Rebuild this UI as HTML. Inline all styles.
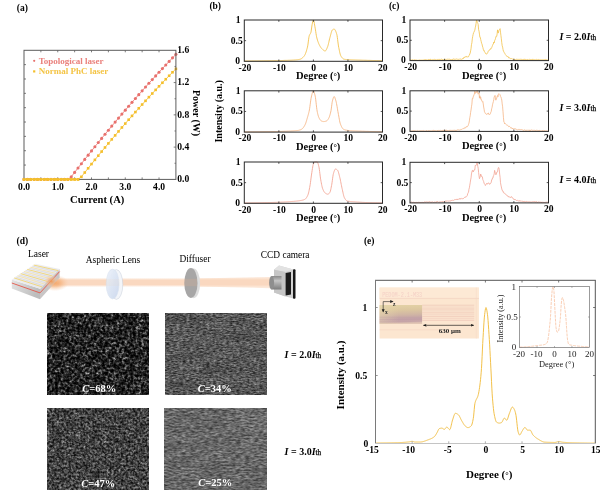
<!DOCTYPE html>
<html><head><meta charset="utf-8"><title>figure</title>
<style>html,body{margin:0;padding:0;background:#fff;}body{width:600px;height:490px;overflow:hidden;}svg{display:block;will-change:transform;font-family:"Liberation Serif", serif;}</style></head><body>
<svg width="600" height="490" viewBox="0 0 600 490">
<rect width="600" height="490" fill="#fff"/>
<text x="22.3" y="10.6" font-size="9.5" font-weight="bold" text-anchor="middle" fill="#000" >(a)</text>
<clipPath id="ca"><rect x="22.0" y="47.3" width="156.4" height="134.10000000000002"/></clipPath>
<g clip-path="url(#ca)">
<polyline points="24,179.4 27.38,179.4 30.75,179.4 34.13,179.4 37.5,179.4 40.88,179.4 44.25,179.4 47.63,179.4 51,179.4 54.38,179.4 57.76,179.4 61.13,179.4 64.51,179.4 67.88,179.4 71.26,176.76 74.63,172.38 78.01,168.03 81.38,163.71 84.76,159.42 88.14,155.16 91.51,150.92 94.89,146.72 98.26,142.54 101.64,138.39 105.01,134.27 108.39,130.18 111.76,126.12 115.14,122.08 118.52,118.08 121.89,114.1 125.27,110.15 128.64,106.23 132.02,102.34 135.39,98.47 138.77,94.64 142.14,90.83 145.52,87.06 148.9,83.31 152.27,79.59 155.65,75.9 159.02,72.23 162.4,68.6 165.77,64.99 169.15,61.41 172.52,57.86 175.9,54.34" fill="none" stroke="#e8716d" stroke-width="0.8" stroke-linejoin="round" />
<circle cx="24" cy="179.4" r="1.55" fill="#e8716d"/>
<circle cx="27.38" cy="179.4" r="1.55" fill="#e8716d"/>
<circle cx="30.75" cy="179.4" r="1.55" fill="#e8716d"/>
<circle cx="34.13" cy="179.4" r="1.55" fill="#e8716d"/>
<circle cx="37.5" cy="179.4" r="1.55" fill="#e8716d"/>
<circle cx="40.88" cy="179.4" r="1.55" fill="#e8716d"/>
<circle cx="44.25" cy="179.4" r="1.55" fill="#e8716d"/>
<circle cx="47.63" cy="179.4" r="1.55" fill="#e8716d"/>
<circle cx="51" cy="179.4" r="1.55" fill="#e8716d"/>
<circle cx="54.38" cy="179.4" r="1.55" fill="#e8716d"/>
<circle cx="57.76" cy="179.4" r="1.55" fill="#e8716d"/>
<circle cx="61.13" cy="179.4" r="1.55" fill="#e8716d"/>
<circle cx="64.51" cy="179.4" r="1.55" fill="#e8716d"/>
<circle cx="67.88" cy="179.4" r="1.55" fill="#e8716d"/>
<circle cx="71.26" cy="176.76" r="1.55" fill="#e8716d"/>
<circle cx="74.63" cy="172.38" r="1.55" fill="#e8716d"/>
<circle cx="78.01" cy="168.03" r="1.55" fill="#e8716d"/>
<circle cx="81.38" cy="163.71" r="1.55" fill="#e8716d"/>
<circle cx="84.76" cy="159.42" r="1.55" fill="#e8716d"/>
<circle cx="88.14" cy="155.16" r="1.55" fill="#e8716d"/>
<circle cx="91.51" cy="150.92" r="1.55" fill="#e8716d"/>
<circle cx="94.89" cy="146.72" r="1.55" fill="#e8716d"/>
<circle cx="98.26" cy="142.54" r="1.55" fill="#e8716d"/>
<circle cx="101.64" cy="138.39" r="1.55" fill="#e8716d"/>
<circle cx="105.01" cy="134.27" r="1.55" fill="#e8716d"/>
<circle cx="108.39" cy="130.18" r="1.55" fill="#e8716d"/>
<circle cx="111.76" cy="126.12" r="1.55" fill="#e8716d"/>
<circle cx="115.14" cy="122.08" r="1.55" fill="#e8716d"/>
<circle cx="118.52" cy="118.08" r="1.55" fill="#e8716d"/>
<circle cx="121.89" cy="114.1" r="1.55" fill="#e8716d"/>
<circle cx="125.27" cy="110.15" r="1.55" fill="#e8716d"/>
<circle cx="128.64" cy="106.23" r="1.55" fill="#e8716d"/>
<circle cx="132.02" cy="102.34" r="1.55" fill="#e8716d"/>
<circle cx="135.39" cy="98.47" r="1.55" fill="#e8716d"/>
<circle cx="138.77" cy="94.64" r="1.55" fill="#e8716d"/>
<circle cx="142.14" cy="90.83" r="1.55" fill="#e8716d"/>
<circle cx="145.52" cy="87.06" r="1.55" fill="#e8716d"/>
<circle cx="148.9" cy="83.31" r="1.55" fill="#e8716d"/>
<circle cx="152.27" cy="79.59" r="1.55" fill="#e8716d"/>
<circle cx="155.65" cy="75.9" r="1.55" fill="#e8716d"/>
<circle cx="159.02" cy="72.23" r="1.55" fill="#e8716d"/>
<circle cx="162.4" cy="68.6" r="1.55" fill="#e8716d"/>
<circle cx="165.77" cy="64.99" r="1.55" fill="#e8716d"/>
<circle cx="169.15" cy="61.41" r="1.55" fill="#e8716d"/>
<circle cx="172.52" cy="57.86" r="1.55" fill="#e8716d"/>
<circle cx="175.9" cy="54.34" r="1.55" fill="#e8716d"/>
<polyline points="24,179.4 27.38,179.4 30.75,179.4 34.13,179.4 37.5,179.4 40.88,179.4 44.25,179.4 47.63,179.4 51,179.4 54.38,179.4 57.76,179.4 61.13,179.4 64.51,179.4 67.88,179.4 71.26,179.4 74.63,179.4 78.01,179.4 81.38,176.81 84.76,172.53 88.14,168.27 91.51,164.05 94.89,159.86 98.26,155.7 101.64,151.57 105.01,147.48 108.39,143.42 111.76,139.38 115.14,135.39 118.52,131.42 121.89,127.48 125.27,123.58 128.64,119.71 132.02,115.87 135.39,112.06 138.77,108.29 142.14,104.54 145.52,100.83 148.9,97.15 152.27,93.51 155.65,89.89 159.02,86.31 162.4,82.76 165.77,79.24 169.15,75.75 172.52,72.29 175.9,68.87" fill="none" stroke="#f4bf2c" stroke-width="0.8" stroke-linejoin="round" />
<rect x="22.7" y="178.1" width="2.6" height="2.6" fill="#f4bf2c"/>
<rect x="26.08" y="178.1" width="2.6" height="2.6" fill="#f4bf2c"/>
<rect x="29.45" y="178.1" width="2.6" height="2.6" fill="#f4bf2c"/>
<rect x="32.83" y="178.1" width="2.6" height="2.6" fill="#f4bf2c"/>
<rect x="36.2" y="178.1" width="2.6" height="2.6" fill="#f4bf2c"/>
<rect x="39.58" y="178.1" width="2.6" height="2.6" fill="#f4bf2c"/>
<rect x="42.95" y="178.1" width="2.6" height="2.6" fill="#f4bf2c"/>
<rect x="46.33" y="178.1" width="2.6" height="2.6" fill="#f4bf2c"/>
<rect x="49.7" y="178.1" width="2.6" height="2.6" fill="#f4bf2c"/>
<rect x="53.08" y="178.1" width="2.6" height="2.6" fill="#f4bf2c"/>
<rect x="56.46" y="178.1" width="2.6" height="2.6" fill="#f4bf2c"/>
<rect x="59.83" y="178.1" width="2.6" height="2.6" fill="#f4bf2c"/>
<rect x="63.21" y="178.1" width="2.6" height="2.6" fill="#f4bf2c"/>
<rect x="66.58" y="178.1" width="2.6" height="2.6" fill="#f4bf2c"/>
<rect x="69.96" y="178.1" width="2.6" height="2.6" fill="#f4bf2c"/>
<rect x="73.33" y="178.1" width="2.6" height="2.6" fill="#f4bf2c"/>
<rect x="76.71" y="178.1" width="2.6" height="2.6" fill="#f4bf2c"/>
<rect x="80.08" y="175.51" width="2.6" height="2.6" fill="#f4bf2c"/>
<rect x="83.46" y="171.23" width="2.6" height="2.6" fill="#f4bf2c"/>
<rect x="86.84" y="166.97" width="2.6" height="2.6" fill="#f4bf2c"/>
<rect x="90.21" y="162.75" width="2.6" height="2.6" fill="#f4bf2c"/>
<rect x="93.59" y="158.56" width="2.6" height="2.6" fill="#f4bf2c"/>
<rect x="96.96" y="154.4" width="2.6" height="2.6" fill="#f4bf2c"/>
<rect x="100.34" y="150.27" width="2.6" height="2.6" fill="#f4bf2c"/>
<rect x="103.71" y="146.18" width="2.6" height="2.6" fill="#f4bf2c"/>
<rect x="107.09" y="142.12" width="2.6" height="2.6" fill="#f4bf2c"/>
<rect x="110.46" y="138.08" width="2.6" height="2.6" fill="#f4bf2c"/>
<rect x="113.84" y="134.09" width="2.6" height="2.6" fill="#f4bf2c"/>
<rect x="117.22" y="130.12" width="2.6" height="2.6" fill="#f4bf2c"/>
<rect x="120.59" y="126.18" width="2.6" height="2.6" fill="#f4bf2c"/>
<rect x="123.97" y="122.28" width="2.6" height="2.6" fill="#f4bf2c"/>
<rect x="127.34" y="118.41" width="2.6" height="2.6" fill="#f4bf2c"/>
<rect x="130.72" y="114.57" width="2.6" height="2.6" fill="#f4bf2c"/>
<rect x="134.09" y="110.76" width="2.6" height="2.6" fill="#f4bf2c"/>
<rect x="137.47" y="106.99" width="2.6" height="2.6" fill="#f4bf2c"/>
<rect x="140.84" y="103.24" width="2.6" height="2.6" fill="#f4bf2c"/>
<rect x="144.22" y="99.53" width="2.6" height="2.6" fill="#f4bf2c"/>
<rect x="147.6" y="95.85" width="2.6" height="2.6" fill="#f4bf2c"/>
<rect x="150.97" y="92.21" width="2.6" height="2.6" fill="#f4bf2c"/>
<rect x="154.35" y="88.59" width="2.6" height="2.6" fill="#f4bf2c"/>
<rect x="157.72" y="85.01" width="2.6" height="2.6" fill="#f4bf2c"/>
<rect x="161.1" y="81.46" width="2.6" height="2.6" fill="#f4bf2c"/>
<rect x="164.47" y="77.94" width="2.6" height="2.6" fill="#f4bf2c"/>
<rect x="167.85" y="74.45" width="2.6" height="2.6" fill="#f4bf2c"/>
<rect x="171.22" y="70.99" width="2.6" height="2.6" fill="#f4bf2c"/>
<rect x="174.6" y="67.57" width="2.6" height="2.6" fill="#f4bf2c"/>
</g>
<rect x="24.0" y="50.3" width="151.9" height="129.10000000000002" fill="none" stroke="#5c5c5c" stroke-width="1"/>
<line x1="40.88" y1="50.3" x2="40.88" y2="52.3" stroke="#5c5c5c" stroke-width="0.8" />
<line x1="40.88" y1="179.4" x2="40.88" y2="177.4" stroke="#5c5c5c" stroke-width="0.8" />
<line x1="57.76" y1="50.3" x2="57.76" y2="52.3" stroke="#5c5c5c" stroke-width="0.8" />
<line x1="57.76" y1="179.4" x2="57.76" y2="177.4" stroke="#5c5c5c" stroke-width="0.8" />
<line x1="74.63" y1="50.3" x2="74.63" y2="52.3" stroke="#5c5c5c" stroke-width="0.8" />
<line x1="74.63" y1="179.4" x2="74.63" y2="177.4" stroke="#5c5c5c" stroke-width="0.8" />
<line x1="91.51" y1="50.3" x2="91.51" y2="52.3" stroke="#5c5c5c" stroke-width="0.8" />
<line x1="91.51" y1="179.4" x2="91.51" y2="177.4" stroke="#5c5c5c" stroke-width="0.8" />
<line x1="108.39" y1="50.3" x2="108.39" y2="52.3" stroke="#5c5c5c" stroke-width="0.8" />
<line x1="108.39" y1="179.4" x2="108.39" y2="177.4" stroke="#5c5c5c" stroke-width="0.8" />
<line x1="125.27" y1="50.3" x2="125.27" y2="52.3" stroke="#5c5c5c" stroke-width="0.8" />
<line x1="125.27" y1="179.4" x2="125.27" y2="177.4" stroke="#5c5c5c" stroke-width="0.8" />
<line x1="142.14" y1="50.3" x2="142.14" y2="52.3" stroke="#5c5c5c" stroke-width="0.8" />
<line x1="142.14" y1="179.4" x2="142.14" y2="177.4" stroke="#5c5c5c" stroke-width="0.8" />
<line x1="159.02" y1="50.3" x2="159.02" y2="52.3" stroke="#5c5c5c" stroke-width="0.8" />
<line x1="159.02" y1="179.4" x2="159.02" y2="177.4" stroke="#5c5c5c" stroke-width="0.8" />
<line x1="24" y1="165.06" x2="26" y2="165.06" stroke="#5c5c5c" stroke-width="0.8" />
<line x1="24" y1="150.71" x2="26" y2="150.71" stroke="#5c5c5c" stroke-width="0.8" />
<line x1="24" y1="136.37" x2="26" y2="136.37" stroke="#5c5c5c" stroke-width="0.8" />
<line x1="24" y1="122.02" x2="26" y2="122.02" stroke="#5c5c5c" stroke-width="0.8" />
<line x1="24" y1="107.68" x2="26" y2="107.68" stroke="#5c5c5c" stroke-width="0.8" />
<line x1="24" y1="93.33" x2="26" y2="93.33" stroke="#5c5c5c" stroke-width="0.8" />
<line x1="24" y1="78.99" x2="26" y2="78.99" stroke="#5c5c5c" stroke-width="0.8" />
<line x1="24" y1="64.64" x2="26" y2="64.64" stroke="#5c5c5c" stroke-width="0.8" />
<line x1="175.9" y1="163.26" x2="174.5" y2="163.26" stroke="#5c5c5c" stroke-width="0.8" />
<line x1="175.9" y1="147.12" x2="173.7" y2="147.12" stroke="#5c5c5c" stroke-width="0.8" />
<line x1="175.9" y1="130.99" x2="174.5" y2="130.99" stroke="#5c5c5c" stroke-width="0.8" />
<line x1="175.9" y1="114.85" x2="173.7" y2="114.85" stroke="#5c5c5c" stroke-width="0.8" />
<line x1="175.9" y1="98.71" x2="174.5" y2="98.71" stroke="#5c5c5c" stroke-width="0.8" />
<line x1="175.9" y1="82.57" x2="173.7" y2="82.57" stroke="#5c5c5c" stroke-width="0.8" />
<line x1="175.9" y1="66.44" x2="174.5" y2="66.44" stroke="#5c5c5c" stroke-width="0.8" />
<g clip-path="url(#ca)">
<polyline points="24,179.4 27.38,179.4 30.75,179.4 34.13,179.4 37.5,179.4 40.88,179.4 44.25,179.4 47.63,179.4 51,179.4 54.38,179.4 57.76,179.4 61.13,179.4 64.51,179.4 67.88,179.4 71.26,179.4 74.63,179.4 78.01,179.4" fill="none" stroke="#f4bf2c" stroke-width="1.1" stroke-linejoin="round" />
<rect x="22.7" y="178.1" width="2.6" height="2.6" fill="#f4bf2c"/>
<rect x="26.08" y="178.1" width="2.6" height="2.6" fill="#f4bf2c"/>
<rect x="29.45" y="178.1" width="2.6" height="2.6" fill="#f4bf2c"/>
<rect x="32.83" y="178.1" width="2.6" height="2.6" fill="#f4bf2c"/>
<rect x="36.2" y="178.1" width="2.6" height="2.6" fill="#f4bf2c"/>
<rect x="39.58" y="178.1" width="2.6" height="2.6" fill="#f4bf2c"/>
<rect x="42.95" y="178.1" width="2.6" height="2.6" fill="#f4bf2c"/>
<rect x="46.33" y="178.1" width="2.6" height="2.6" fill="#f4bf2c"/>
<rect x="49.7" y="178.1" width="2.6" height="2.6" fill="#f4bf2c"/>
<rect x="53.08" y="178.1" width="2.6" height="2.6" fill="#f4bf2c"/>
<rect x="56.46" y="178.1" width="2.6" height="2.6" fill="#f4bf2c"/>
<rect x="59.83" y="178.1" width="2.6" height="2.6" fill="#f4bf2c"/>
<rect x="63.21" y="178.1" width="2.6" height="2.6" fill="#f4bf2c"/>
<rect x="66.58" y="178.1" width="2.6" height="2.6" fill="#f4bf2c"/>
<rect x="69.96" y="178.1" width="2.6" height="2.6" fill="#f4bf2c"/>
<rect x="73.33" y="178.1" width="2.6" height="2.6" fill="#f4bf2c"/>
<rect x="76.71" y="178.1" width="2.6" height="2.6" fill="#f4bf2c"/>
</g>
<text x="24.1" y="189.9" font-size="9.6" font-weight="bold" text-anchor="middle" fill="#000" >0.0</text>
<text x="57.86" y="189.9" font-size="9.6" font-weight="bold" text-anchor="middle" fill="#000" >1.0</text>
<text x="91.61" y="189.9" font-size="9.6" font-weight="bold" text-anchor="middle" fill="#000" >2.0</text>
<text x="125.37" y="189.9" font-size="9.6" font-weight="bold" text-anchor="middle" fill="#000" >3.0</text>
<text x="159.12" y="189.9" font-size="9.6" font-weight="bold" text-anchor="middle" fill="#000" >4.0</text>
<text x="177.2" y="182.2" font-size="9.6" font-weight="bold" text-anchor="start" fill="#000" >0.0</text>
<text x="177.2" y="149.93" font-size="9.6" font-weight="bold" text-anchor="start" fill="#000" >0.4</text>
<text x="177.2" y="117.65" font-size="9.6" font-weight="bold" text-anchor="start" fill="#000" >0.8</text>
<text x="177.2" y="85.37" font-size="9.6" font-weight="bold" text-anchor="start" fill="#000" >1.2</text>
<text x="177.2" y="53.1" font-size="9.6" font-weight="bold" text-anchor="start" fill="#000" >1.6</text>
<text x="97.2" y="203.3" font-size="10.6" font-weight="bold" text-anchor="middle" fill="#000" >Current (A)</text>
<text transform="translate(193.2,113) rotate(90)" font-size="10" font-weight="bold" text-anchor="middle">Power (W)</text>
<circle cx="34.2" cy="60.8" r="1.1" fill="#e8716d"/>
<text x="38.7" y="63.6" font-size="9" font-weight="bold" text-anchor="start" fill="#ea807c" >Topological laser</text>
<rect x="33.1" y="70.3" width="2.2" height="2.2" fill="#f4bf2c"/>
<text x="38.7" y="74.3" font-size="9" font-weight="bold" text-anchor="start" fill="#f4c445" >Normal PhC laser</text>
<text x="215.2" y="9.1" font-size="9.5" font-weight="bold" text-anchor="middle" fill="#000" >(b)</text>
<polyline points="244.3,60.97 244.58,60.97 244.85,60.97 245.13,60.97 245.41,60.97 245.68,60.97 245.96,60.96 246.24,60.96 246.52,60.96 246.79,60.96 247.07,60.96 247.35,60.96 247.62,60.96 247.9,60.96 248.18,60.95 248.45,60.95 248.73,60.95 249.01,60.95 249.29,60.95 249.56,60.95 249.84,60.95 250.12,60.94 250.39,60.94 250.67,60.94 250.95,60.94 251.22,60.94 251.5,60.93 251.78,60.93 252.05,60.93 252.33,60.93 252.61,60.92 252.89,60.92 253.16,60.92 253.44,60.92 253.72,60.91 253.99,60.91 254.27,60.91 254.55,60.91 254.82,60.9 255.1,60.9 255.38,60.9 255.66,60.9 255.93,60.89 256.21,60.89 256.49,60.89 256.76,60.88 257.04,60.88 257.32,60.88 257.59,60.88 257.87,60.87 258.15,60.87 258.42,60.87 258.7,60.86 258.98,60.86 259.26,60.86 259.53,60.85 259.81,60.85 260.09,60.85 260.36,60.84 260.64,60.84 260.92,60.84 261.19,60.83 261.47,60.83 261.75,60.83 262.03,60.82 262.3,60.82 262.58,60.81 262.86,60.81 263.13,60.81 263.41,60.8 263.69,60.8 263.96,60.8 264.24,60.79 264.52,60.79 264.79,60.78 265.07,60.78 265.35,60.78 265.63,60.77 265.9,60.77 266.18,60.77 266.46,60.76 266.73,60.76 267.01,60.75 267.29,60.75 267.56,60.75 267.84,60.74 268.12,60.74 268.39,60.73 268.67,60.73 268.95,60.72 269.23,60.72 269.5,60.72 269.78,60.71 270.06,60.71 270.33,60.7 270.61,60.7 270.89,60.7 271.16,60.69 271.44,60.69 271.72,60.68 272,60.68 272.27,60.68 272.55,60.67 272.83,60.67 273.1,60.66 273.38,60.66 273.66,60.65 273.93,60.65 274.21,60.64 274.49,60.64 274.76,60.64 275.04,60.63 275.32,60.63 275.6,60.62 275.87,60.62 276.15,60.61 276.43,60.61 276.7,60.6 276.98,60.6 277.26,60.59 277.53,60.58 277.81,60.58 278.09,60.57 278.37,60.57 278.64,60.56 278.92,60.56 279.2,60.55 279.47,60.54 279.75,60.54 280.03,60.53 280.3,60.53 280.58,60.52 280.86,60.51 281.13,60.51 281.41,60.5 281.69,60.49 281.97,60.49 282.24,60.48 282.52,60.47 282.8,60.47 283.07,60.46 283.35,60.45 283.63,60.44 283.9,60.44 284.18,60.43 284.46,60.42 284.74,60.41 285.01,60.4 285.29,60.4 285.57,60.39 285.84,60.38 286.12,60.37 286.4,60.36 286.67,60.35 286.95,60.35 287.23,60.34 287.5,60.33 287.78,60.32 288.06,60.31 288.34,60.3 288.61,60.29 288.89,60.28 289.17,60.27 289.44,60.26 289.72,60.25 290,60.24 290.27,60.23 290.55,60.21 290.83,60.2 291.11,60.19 291.38,60.18 291.66,60.16 291.94,60.15 292.21,60.13 292.49,60.12 292.77,60.1 293.04,60.09 293.32,60.07 293.6,60.05 293.87,60.03 294.15,60.01 294.43,59.99 294.71,59.97 294.98,59.95 295.26,59.93 295.54,59.91 295.81,59.88 296.09,59.86 296.37,59.83 296.64,59.81 296.92,59.78 297.2,59.75 297.48,59.71 297.75,59.68 298.03,59.64 298.31,59.6 298.58,59.55 298.86,59.51 299.14,59.45 299.41,59.4 299.69,59.34 299.97,59.27 300.24,59.19 300.52,59.1 300.8,58.98 301.08,58.85 301.35,58.69 301.63,58.51 301.91,58.31 302.18,58.09 302.46,57.86 302.74,57.6 303.01,57.33 303.29,57.05 303.57,56.74 303.85,56.42 304.12,56.08 304.4,55.72 304.68,55.29 304.95,54.78 305.23,54.19 305.51,53.54 305.78,52.81 306.06,52.02 306.34,51.16 306.61,50.25 306.89,49.28 307.17,48.25 307.45,47.17 307.72,45.88 308,44.07 308.28,41.95 308.55,39.78 308.83,37.79 309.11,36.25 309.38,35.33 309.66,34.73 309.94,34.28 310.22,33.87 310.49,33.42 310.77,32.8 311.05,31.85 311.32,30.11 311.6,27.98 311.88,25.96 312.15,24.47 312.43,23.08 312.71,21.76 312.98,20.7 313.26,20.09 313.54,20.09 313.82,20.77 314.09,21.94 314.37,23.44 314.65,25.09 314.92,26.71 315.2,28.2 315.48,29.89 315.75,31.73 316.03,33.57 316.31,35.29 316.58,36.77 316.86,37.92 317.14,38.95 317.42,39.91 317.69,40.8 317.97,41.63 318.25,42.4 318.52,43.11 318.8,43.77 319.08,44.38 319.35,44.94 319.63,45.48 319.91,45.98 320.19,46.46 320.46,46.91 320.74,47.33 321.02,47.71 321.29,48.06 321.57,48.37 321.85,48.65 322.12,48.93 322.4,49.21 322.68,49.49 322.95,49.76 323.23,50.01 323.51,50.24 323.79,50.45 324.06,50.63 324.34,50.78 324.62,50.89 324.89,50.95 325.17,50.97 325.45,50.88 325.72,50.63 326,50.26 326.28,49.78 326.56,49.22 326.83,48.6 327.11,47.95 327.39,47.28 327.66,46.6 327.94,45.76 328.22,44.76 328.49,43.64 328.77,42.44 329.05,41.2 329.32,39.97 329.6,38.8 329.88,37.72 330.16,36.74 330.43,35.7 330.71,34.64 330.99,33.58 331.26,32.58 331.54,31.67 331.82,30.9 332.09,30.31 332.37,29.94 332.65,29.72 332.93,29.53 333.2,29.36 333.48,29.23 333.76,29.13 334.03,29.09 334.31,29.12 334.59,29.29 334.86,29.6 335.14,30.02 335.42,30.55 335.69,31.18 335.97,31.88 336.25,32.64 336.53,33.45 336.8,34.32 337.08,35.68 337.36,37.52 337.63,39.66 337.91,41.9 338.19,44.06 338.46,45.96 338.74,47.46 339.02,48.87 339.3,50.25 339.57,51.57 339.85,52.8 340.13,53.89 340.4,54.82 340.68,55.56 340.96,56.08 341.23,56.52 341.51,56.94 341.79,57.33 342.06,57.69 342.34,58.01 342.62,58.31 342.9,58.56 343.17,58.78 343.45,58.96 343.73,59.1 344,59.2 344.28,59.26 344.56,59.31 344.83,59.35 345.11,59.39 345.39,59.42 345.67,59.45 345.94,59.48 346.22,59.51 346.5,59.53 346.77,59.55 347.05,59.57 347.33,59.59 347.6,59.61 347.88,59.62 348.16,59.64 348.43,59.66 348.71,59.67 348.99,59.69 349.27,59.71 349.54,59.72 349.82,59.74 350.1,59.75 350.37,59.76 350.65,59.78 350.93,59.79 351.2,59.8 351.48,59.82 351.76,59.83 352.04,59.84 352.31,59.85 352.59,59.86 352.87,59.87 353.14,59.88 353.42,59.9 353.7,59.91 353.97,59.92 354.25,59.93 354.53,59.94 354.8,59.95 355.08,59.96 355.36,59.96 355.64,59.97 355.91,59.98 356.19,59.99 356.47,60 356.74,60.01 357.02,60.02 357.3,60.03 357.57,60.04 357.85,60.05 358.13,60.05 358.41,60.06 358.68,60.07 358.96,60.08 359.24,60.09 359.51,60.1 359.79,60.11 360.07,60.12 360.34,60.13 360.62,60.14 360.9,60.14 361.17,60.15 361.45,60.16 361.73,60.17 362.01,60.18 362.28,60.19 362.56,60.2 362.84,60.21 363.11,60.21 363.39,60.22 363.67,60.23 363.94,60.24 364.22,60.25 364.5,60.26 364.77,60.26 365.05,60.27 365.33,60.28 365.61,60.29 365.88,60.3 366.16,60.31 366.44,60.31 366.71,60.32 366.99,60.33 367.27,60.34 367.54,60.35 367.82,60.35 368.1,60.36 368.38,60.37 368.65,60.38 368.93,60.39 369.21,60.39 369.48,60.4 369.76,60.41 370.04,60.42 370.31,60.42 370.59,60.43 370.87,60.44 371.14,60.44 371.42,60.45 371.7,60.46 371.98,60.47 372.25,60.47 372.53,60.48 372.81,60.49 373.08,60.49 373.36,60.5 373.64,60.51 373.91,60.51 374.19,60.52 374.47,60.53 374.75,60.53 375.02,60.54 375.3,60.55 375.58,60.55 375.85,60.56 376.13,60.56 376.41,60.57 376.68,60.58 376.96,60.58 377.24,60.59 377.51,60.59 377.79,60.6 378.07,60.6 378.35,60.61 378.62,60.62 378.9,60.62 379.18,60.63 379.45,60.63 379.73,60.64 380.01,60.64 380.28,60.65 380.56,60.65 380.84,60.65 381.12,60.66 381.39,60.66 381.67,60.67 381.95,60.67 382.22,60.68 382.5,60.68" fill="none" stroke="#f3c14a" stroke-width="0.9" stroke-linejoin="round" />
<rect x="244.3" y="20" width="138.2" height="41.3" fill="none" stroke="#2a2a2a" stroke-width="1"/>
<line x1="278.85" y1="20" x2="278.85" y2="21.8" stroke="#2a2a2a" stroke-width="0.8" />
<line x1="278.85" y1="61.3" x2="278.85" y2="59.5" stroke="#2a2a2a" stroke-width="0.8" />
<line x1="313.4" y1="20" x2="313.4" y2="21.8" stroke="#2a2a2a" stroke-width="0.8" />
<line x1="313.4" y1="61.3" x2="313.4" y2="59.5" stroke="#2a2a2a" stroke-width="0.8" />
<line x1="347.95" y1="20" x2="347.95" y2="21.8" stroke="#2a2a2a" stroke-width="0.8" />
<line x1="347.95" y1="61.3" x2="347.95" y2="59.5" stroke="#2a2a2a" stroke-width="0.8" />
<line x1="244.3" y1="40.65" x2="246.1" y2="40.65" stroke="#2a2a2a" stroke-width="0.8" />
<line x1="382.5" y1="40.65" x2="380.7" y2="40.65" stroke="#2a2a2a" stroke-width="0.8" />
<text x="240.5" y="23.1" font-size="9.6" font-weight="bold" text-anchor="end" fill="#000" >1</text>
<text x="242.7" y="43.65" font-size="9.6" font-weight="bold" text-anchor="end" fill="#000" >0.5</text>
<text x="240.1" y="64.1" font-size="9.6" font-weight="bold" text-anchor="end" fill="#000" >0</text>
<text x="244.9" y="70.6" font-size="9.6" font-weight="bold" text-anchor="middle" fill="#000" >-20</text>
<text x="279.45" y="70.6" font-size="9.6" font-weight="bold" text-anchor="middle" fill="#000" >-10</text>
<text x="313.7" y="70.6" font-size="9.6" font-weight="bold" text-anchor="middle" fill="#000" >0</text>
<text x="348.25" y="70.6" font-size="9.6" font-weight="bold" text-anchor="middle" fill="#000" >10</text>
<text x="382.8" y="70.6" font-size="9.6" font-weight="bold" text-anchor="middle" fill="#000" >20</text>
<text x="318.2" y="79.3" font-size="10.5" font-weight="bold" text-anchor="middle" fill="#000" >Degree (<tspan font-size="8.6" dy="-0.3">°</tspan><tspan dy="0.3">)</tspan></text>
<polyline points="244.3,131.89 244.58,131.89 244.85,131.89 245.13,131.89 245.41,131.89 245.68,131.89 245.96,131.89 246.24,131.89 246.52,131.89 246.79,131.89 247.07,131.89 247.35,131.89 247.62,131.89 247.9,131.89 248.18,131.89 248.45,131.88 248.73,131.88 249.01,131.88 249.29,131.88 249.56,131.88 249.84,131.88 250.12,131.88 250.39,131.87 250.67,131.87 250.95,131.87 251.22,131.87 251.5,131.87 251.78,131.87 252.05,131.86 252.33,131.86 252.61,131.86 252.89,131.86 253.16,131.85 253.44,131.85 253.72,131.85 253.99,131.85 254.27,131.85 254.55,131.84 254.82,131.84 255.1,131.84 255.38,131.83 255.66,131.83 255.93,131.83 256.21,131.83 256.49,131.82 256.76,131.82 257.04,131.82 257.32,131.81 257.59,131.81 257.87,131.81 258.15,131.8 258.42,131.8 258.7,131.8 258.98,131.79 259.26,131.79 259.53,131.79 259.81,131.78 260.09,131.78 260.36,131.78 260.64,131.77 260.92,131.77 261.19,131.77 261.47,131.76 261.75,131.76 262.03,131.76 262.3,131.75 262.58,131.75 262.86,131.74 263.13,131.74 263.41,131.74 263.69,131.73 263.96,131.73 264.24,131.72 264.52,131.72 264.79,131.72 265.07,131.71 265.35,131.71 265.63,131.7 265.9,131.7 266.18,131.7 266.46,131.69 266.73,131.69 267.01,131.68 267.29,131.68 267.56,131.67 267.84,131.67 268.12,131.67 268.39,131.66 268.67,131.66 268.95,131.65 269.23,131.65 269.5,131.64 269.78,131.64 270.06,131.63 270.33,131.63 270.61,131.63 270.89,131.62 271.16,131.62 271.44,131.61 271.72,131.61 272,131.6 272.27,131.6 272.55,131.59 272.83,131.59 273.1,131.58 273.38,131.58 273.66,131.57 273.93,131.57 274.21,131.56 274.49,131.56 274.76,131.55 275.04,131.55 275.32,131.54 275.6,131.53 275.87,131.53 276.15,131.52 276.43,131.51 276.7,131.51 276.98,131.5 277.26,131.49 277.53,131.49 277.81,131.48 278.09,131.47 278.37,131.46 278.64,131.46 278.92,131.45 279.2,131.44 279.47,131.43 279.75,131.42 280.03,131.42 280.3,131.41 280.58,131.4 280.86,131.39 281.13,131.38 281.41,131.37 281.69,131.36 281.97,131.35 282.24,131.34 282.52,131.33 282.8,131.33 283.07,131.32 283.35,131.31 283.63,131.3 283.9,131.29 284.18,131.28 284.46,131.27 284.74,131.25 285.01,131.24 285.29,131.23 285.57,131.22 285.84,131.21 286.12,131.2 286.4,131.19 286.67,131.18 286.95,131.17 287.23,131.15 287.5,131.14 287.78,131.13 288.06,131.12 288.34,131.11 288.61,131.09 288.89,131.08 289.17,131.07 289.44,131.06 289.72,131.04 290,131.03 290.27,131.02 290.55,131.01 290.83,130.99 291.11,130.98 291.38,130.97 291.66,130.95 291.94,130.94 292.21,130.92 292.49,130.91 292.77,130.89 293.04,130.88 293.32,130.86 293.6,130.84 293.87,130.82 294.15,130.81 294.43,130.79 294.71,130.76 294.98,130.74 295.26,130.72 295.54,130.7 295.81,130.67 296.09,130.64 296.37,130.62 296.64,130.59 296.92,130.56 297.2,130.53 297.48,130.49 297.75,130.46 298.03,130.42 298.31,130.38 298.58,130.33 298.86,130.27 299.14,130.2 299.41,130.12 299.69,130.04 299.97,129.95 300.24,129.85 300.52,129.74 300.8,129.62 301.08,129.5 301.35,129.36 301.63,129.22 301.91,129.06 302.18,128.85 302.46,128.6 302.74,128.32 303.01,128 303.29,127.65 303.57,127.26 303.85,126.85 304.12,126.41 304.4,125.95 304.68,125.46 304.95,124.96 305.23,124.42 305.51,123.79 305.78,123.05 306.06,122.23 306.34,121.35 306.61,120.42 306.89,119.45 307.17,118.48 307.45,117.51 307.72,116.56 308,115.61 308.28,114.64 308.55,113.61 308.83,112.51 309.11,111.31 309.38,109.95 309.66,108.26 309.94,106.3 310.22,104.21 310.49,102.11 310.77,100.12 311.05,98.38 311.32,97.01 311.6,95.86 311.88,94.7 312.15,93.6 312.43,92.61 312.71,91.78 312.98,91.17 313.26,90.84 313.54,90.85 313.82,91.21 314.09,91.87 314.37,92.75 314.65,93.79 314.92,94.91 315.2,96.08 315.48,97.7 315.75,99.81 316.03,102.21 316.31,104.73 316.58,107.18 316.86,109.38 317.14,111.14 317.42,112.46 317.69,113.68 317.97,114.8 318.25,115.79 318.52,116.65 318.8,117.37 319.08,117.94 319.35,118.48 319.63,118.98 319.91,119.44 320.19,119.85 320.46,120.21 320.74,120.51 321.02,120.75 321.29,120.92 321.57,121.04 321.85,121.15 322.12,121.25 322.4,121.34 322.68,121.42 322.95,121.48 323.23,121.53 323.51,121.56 323.79,121.57 324.06,121.56 324.34,121.54 324.62,121.5 324.89,121.45 325.17,121.39 325.45,121.32 325.72,121.23 326,121.14 326.28,121.04 326.56,120.94 326.83,120.78 327.11,120.56 327.39,120.27 327.66,119.93 327.94,119.54 328.22,119.11 328.49,118.66 328.77,118.16 329.05,117.57 329.32,116.87 329.6,116.08 329.88,115.2 330.16,114.23 330.43,113.17 330.71,112.04 330.99,110.76 331.26,108.97 331.54,106.85 331.82,104.68 332.09,102.72 332.37,101.25 332.65,100.19 332.93,99.16 333.2,98.23 333.48,97.45 333.76,96.89 334.03,96.6 334.31,96.65 334.59,97.01 334.86,97.61 335.14,98.38 335.42,99.26 335.69,100.18 335.97,101.1 336.25,102.22 336.53,103.55 336.8,105.03 337.08,106.61 337.36,108.26 337.63,109.91 337.91,111.53 338.19,113.05 338.46,114.51 338.74,116.06 339.02,117.65 339.3,119.22 339.57,120.71 339.85,122.03 340.13,123.15 340.4,123.98 340.68,124.69 340.96,125.37 341.23,126.01 341.51,126.6 341.79,127.15 342.06,127.64 342.34,128.08 342.62,128.46 342.9,128.78 343.17,129.03 343.45,129.2 343.73,129.34 344,129.46 344.28,129.58 344.56,129.69 344.83,129.78 345.11,129.88 345.39,129.96 345.67,130.04 345.94,130.11 346.22,130.17 346.5,130.23 346.77,130.28 347.05,130.33 347.33,130.37 347.6,130.41 347.88,130.44 348.16,130.47 348.43,130.5 348.71,130.53 348.99,130.55 349.27,130.58 349.54,130.6 349.82,130.63 350.1,130.65 350.37,130.67 350.65,130.69 350.93,130.71 351.2,130.73 351.48,130.75 351.76,130.77 352.04,130.78 352.31,130.8 352.59,130.82 352.87,130.83 353.14,130.85 353.42,130.86 353.7,130.88 353.97,130.89 354.25,130.9 354.53,130.92 354.8,130.93 355.08,130.94 355.36,130.95 355.64,130.96 355.91,130.98 356.19,130.99 356.47,131 356.74,131.01 357.02,131.02 357.3,131.03 357.57,131.04 357.85,131.05 358.13,131.06 358.41,131.07 358.68,131.08 358.96,131.09 359.24,131.1 359.51,131.11 359.79,131.12 360.07,131.13 360.34,131.14 360.62,131.15 360.9,131.16 361.17,131.18 361.45,131.19 361.73,131.2 362.01,131.21 362.28,131.22 362.56,131.23 362.84,131.24 363.11,131.25 363.39,131.26 363.67,131.27 363.94,131.28 364.22,131.29 364.5,131.3 364.77,131.31 365.05,131.32 365.33,131.33 365.61,131.33 365.88,131.34 366.16,131.35 366.44,131.36 366.71,131.37 366.99,131.38 367.27,131.39 367.54,131.4 367.82,131.41 368.1,131.42 368.38,131.43 368.65,131.43 368.93,131.44 369.21,131.45 369.48,131.46 369.76,131.47 370.04,131.48 370.31,131.48 370.59,131.49 370.87,131.5 371.14,131.51 371.42,131.51 371.7,131.52 371.98,131.53 372.25,131.54 372.53,131.54 372.81,131.55 373.08,131.56 373.36,131.56 373.64,131.57 373.91,131.58 374.19,131.58 374.47,131.59 374.75,131.59 375.02,131.6 375.3,131.61 375.58,131.61 375.85,131.62 376.13,131.62 376.41,131.63 376.68,131.63 376.96,131.64 377.24,131.64 377.51,131.64 377.79,131.65 378.07,131.65 378.35,131.66 378.62,131.66 378.9,131.66 379.18,131.67 379.45,131.67 379.73,131.67 380.01,131.67 380.28,131.68 380.56,131.68 380.84,131.68 381.12,131.68 381.39,131.68 381.67,131.68 381.95,131.69 382.22,131.69 382.5,131.69" fill="none" stroke="#f5b585" stroke-width="0.9" stroke-linejoin="round" />
<rect x="244.3" y="90.8" width="138.2" height="41.3" fill="none" stroke="#2a2a2a" stroke-width="1"/>
<line x1="278.85" y1="90.8" x2="278.85" y2="92.6" stroke="#2a2a2a" stroke-width="0.8" />
<line x1="278.85" y1="132.1" x2="278.85" y2="130.3" stroke="#2a2a2a" stroke-width="0.8" />
<line x1="313.4" y1="90.8" x2="313.4" y2="92.6" stroke="#2a2a2a" stroke-width="0.8" />
<line x1="313.4" y1="132.1" x2="313.4" y2="130.3" stroke="#2a2a2a" stroke-width="0.8" />
<line x1="347.95" y1="90.8" x2="347.95" y2="92.6" stroke="#2a2a2a" stroke-width="0.8" />
<line x1="347.95" y1="132.1" x2="347.95" y2="130.3" stroke="#2a2a2a" stroke-width="0.8" />
<line x1="244.3" y1="111.45" x2="246.1" y2="111.45" stroke="#2a2a2a" stroke-width="0.8" />
<line x1="382.5" y1="111.45" x2="380.7" y2="111.45" stroke="#2a2a2a" stroke-width="0.8" />
<text x="240.5" y="93.9" font-size="9.6" font-weight="bold" text-anchor="end" fill="#000" >1</text>
<text x="242.7" y="114.45" font-size="9.6" font-weight="bold" text-anchor="end" fill="#000" >0.5</text>
<text x="240.1" y="134.9" font-size="9.6" font-weight="bold" text-anchor="end" fill="#000" >0</text>
<text x="244.9" y="141.4" font-size="9.6" font-weight="bold" text-anchor="middle" fill="#000" >-20</text>
<text x="279.45" y="141.4" font-size="9.6" font-weight="bold" text-anchor="middle" fill="#000" >-10</text>
<text x="313.7" y="141.4" font-size="9.6" font-weight="bold" text-anchor="middle" fill="#000" >0</text>
<text x="348.25" y="141.4" font-size="9.6" font-weight="bold" text-anchor="middle" fill="#000" >10</text>
<text x="382.8" y="141.4" font-size="9.6" font-weight="bold" text-anchor="middle" fill="#000" >20</text>
<text x="318.2" y="150.1" font-size="10.5" font-weight="bold" text-anchor="middle" fill="#000" >Degree (<tspan font-size="8.6" dy="-0.3">°</tspan><tspan dy="0.3">)</tspan></text>
<polyline points="244.3,202.89 244.58,202.89 244.85,202.89 245.13,202.89 245.41,202.89 245.68,202.89 245.96,202.88 246.24,202.88 246.52,202.88 246.79,202.88 247.07,202.88 247.35,202.88 247.62,202.88 247.9,202.88 248.18,202.88 248.45,202.87 248.73,202.87 249.01,202.87 249.29,202.87 249.56,202.87 249.84,202.86 250.12,202.86 250.39,202.86 250.67,202.86 250.95,202.86 251.22,202.85 251.5,202.85 251.78,202.85 252.05,202.84 252.33,202.84 252.61,202.84 252.89,202.84 253.16,202.83 253.44,202.83 253.72,202.83 253.99,202.82 254.27,202.82 254.55,202.82 254.82,202.81 255.1,202.81 255.38,202.8 255.66,202.8 255.93,202.8 256.21,202.79 256.49,202.79 256.76,202.78 257.04,202.78 257.32,202.77 257.59,202.77 257.87,202.77 258.15,202.76 258.42,202.76 258.7,202.75 258.98,202.75 259.26,202.74 259.53,202.74 259.81,202.73 260.09,202.73 260.36,202.72 260.64,202.72 260.92,202.71 261.19,202.71 261.47,202.7 261.75,202.7 262.03,202.69 262.3,202.69 262.58,202.68 262.86,202.68 263.13,202.67 263.41,202.66 263.69,202.66 263.96,202.65 264.24,202.65 264.52,202.64 264.79,202.64 265.07,202.63 265.35,202.62 265.63,202.62 265.9,202.61 266.18,202.61 266.46,202.6 266.73,202.59 267.01,202.59 267.29,202.58 267.56,202.57 267.84,202.57 268.12,202.56 268.39,202.56 268.67,202.55 268.95,202.54 269.23,202.54 269.5,202.53 269.78,202.52 270.06,202.52 270.33,202.51 270.61,202.51 270.89,202.5 271.16,202.49 271.44,202.49 271.72,202.48 272,202.47 272.27,202.47 272.55,202.46 272.83,202.45 273.1,202.44 273.38,202.44 273.66,202.43 273.93,202.42 274.21,202.41 274.49,202.41 274.76,202.4 275.04,202.39 275.32,202.38 275.6,202.37 275.87,202.36 276.15,202.35 276.43,202.34 276.7,202.33 276.98,202.32 277.26,202.31 277.53,202.3 277.81,202.29 278.09,202.28 278.37,202.27 278.64,202.26 278.92,202.25 279.2,202.23 279.47,202.22 279.75,202.21 280.03,202.2 280.3,202.19 280.58,202.17 280.86,202.16 281.13,202.15 281.41,202.13 281.69,202.12 281.97,202.11 282.24,202.09 282.52,202.08 282.8,202.06 283.07,202.05 283.35,202.04 283.63,202.02 283.9,202.01 284.18,201.99 284.46,201.98 284.74,201.96 285.01,201.94 285.29,201.93 285.57,201.91 285.84,201.9 286.12,201.88 286.4,201.86 286.67,201.85 286.95,201.83 287.23,201.81 287.5,201.8 287.78,201.78 288.06,201.76 288.34,201.74 288.61,201.73 288.89,201.71 289.17,201.69 289.44,201.67 289.72,201.65 290,201.63 290.27,201.61 290.55,201.59 290.83,201.57 291.11,201.56 291.38,201.54 291.66,201.52 291.94,201.5 292.21,201.48 292.49,201.45 292.77,201.43 293.04,201.41 293.32,201.39 293.6,201.37 293.87,201.35 294.15,201.32 294.43,201.3 294.71,201.28 294.98,201.25 295.26,201.23 295.54,201.2 295.81,201.17 296.09,201.14 296.37,201.11 296.64,201.08 296.92,201.05 297.2,201.02 297.48,200.99 297.75,200.95 298.03,200.92 298.31,200.88 298.58,200.85 298.86,200.81 299.14,200.77 299.41,200.73 299.69,200.68 299.97,200.64 300.24,200.6 300.52,200.55 300.8,200.5 301.08,200.45 301.35,200.4 301.63,200.35 301.91,200.29 302.18,200.23 302.46,200.17 302.74,200.1 303.01,200.02 303.29,199.94 303.57,199.85 303.85,199.75 304.12,199.64 304.4,199.52 304.68,199.39 304.95,199.25 305.23,199.1 305.51,198.89 305.78,198.62 306.06,198.3 306.34,197.93 306.61,197.51 306.89,197.04 307.17,196.52 307.45,195.97 307.72,195.38 308,194.73 308.28,193.89 308.55,192.86 308.83,191.68 309.11,190.38 309.38,188.97 309.66,187.5 309.94,185.99 310.22,184.31 310.49,182.35 310.77,180.23 311.05,178.06 311.32,175.96 311.6,174.03 311.88,172.26 312.15,170.43 312.43,168.62 312.71,166.96 312.98,165.53 313.26,164.44 313.54,163.75 313.82,163.15 314.09,162.63 314.37,162.24 314.65,162.03 314.92,162 315.2,162 315.48,162 315.75,162 316.03,162 316.31,162 316.58,162 316.86,162 317.14,162 317.42,162.12 317.69,162.57 317.97,163.29 318.25,164.23 318.52,165.3 318.8,166.43 319.08,167.66 319.35,169.39 319.63,171.5 319.91,173.8 320.19,176.07 320.46,178.14 320.74,179.82 321.02,181.36 321.29,182.87 321.57,184.3 321.85,185.63 322.12,186.83 322.4,187.87 322.68,188.71 322.95,189.4 323.23,190.04 323.51,190.64 323.79,191.18 324.06,191.67 324.34,192.1 324.62,192.46 324.89,192.76 325.17,192.99 325.45,193.19 325.72,193.37 326,193.55 326.28,193.71 326.56,193.86 326.83,193.98 327.11,194.08 327.39,194.16 327.66,194.2 327.94,194.21 328.22,194.16 328.49,194.01 328.77,193.79 329.05,193.5 329.32,193.15 329.6,192.75 329.88,192.32 330.16,191.79 330.43,190.95 330.71,189.83 330.99,188.51 331.26,187.08 331.54,185.61 331.82,184.13 332.09,182.34 332.37,180.29 332.65,178.19 332.93,176.22 333.2,174.58 333.48,173.43 333.76,172.52 334.03,171.65 334.31,170.86 334.59,170.17 334.86,169.61 335.14,169.22 335.42,169.03 335.69,169.03 335.97,169.1 336.25,169.21 336.53,169.37 336.8,169.56 337.08,169.78 337.36,170.04 337.63,170.31 337.91,170.77 338.19,171.44 338.46,172.29 338.74,173.28 339.02,174.34 339.3,175.44 339.57,176.54 339.85,177.63 340.13,178.84 340.4,180.16 340.68,181.54 340.96,182.96 341.23,184.38 341.51,185.78 341.79,187.13 342.06,188.38 342.34,189.61 342.62,190.89 342.9,192.18 343.17,193.45 343.45,194.65 343.73,195.75 344,196.71 344.28,197.48 344.56,198.04 344.83,198.51 345.11,198.96 345.39,199.37 345.67,199.75 345.94,200.09 346.22,200.38 346.5,200.63 346.77,200.82 347.05,200.96 347.33,201.04 347.6,201.1 347.88,201.16 348.16,201.21 348.43,201.26 348.71,201.31 348.99,201.35 349.27,201.39 349.54,201.42 349.82,201.46 350.1,201.49 350.37,201.52 350.65,201.55 350.93,201.57 351.2,201.6 351.48,201.62 351.76,201.64 352.04,201.66 352.31,201.68 352.59,201.7 352.87,201.72 353.14,201.73 353.42,201.75 353.7,201.77 353.97,201.79 354.25,201.81 354.53,201.83 354.8,201.85 355.08,201.87 355.36,201.89 355.64,201.91 355.91,201.94 356.19,201.96 356.47,201.98 356.74,202 357.02,202.02 357.3,202.04 357.57,202.06 357.85,202.08 358.13,202.1 358.41,202.12 358.68,202.14 358.96,202.16 359.24,202.17 359.51,202.19 359.79,202.21 360.07,202.23 360.34,202.25 360.62,202.26 360.9,202.28 361.17,202.29 361.45,202.31 361.73,202.32 362.01,202.34 362.28,202.35 362.56,202.37 362.84,202.38 363.11,202.39 363.39,202.41 363.67,202.42 363.94,202.43 364.22,202.44 364.5,202.45 364.77,202.46 365.05,202.47 365.33,202.48 365.61,202.49 365.88,202.49 366.16,202.5 366.44,202.51 366.71,202.52 366.99,202.53 367.27,202.53 367.54,202.54 367.82,202.55 368.1,202.56 368.38,202.57 368.65,202.57 368.93,202.58 369.21,202.59 369.48,202.6 369.76,202.61 370.04,202.61 370.31,202.62 370.59,202.63 370.87,202.63 371.14,202.64 371.42,202.65 371.7,202.66 371.98,202.66 372.25,202.67 372.53,202.67 372.81,202.68 373.08,202.69 373.36,202.69 373.64,202.7 373.91,202.71 374.19,202.71 374.47,202.72 374.75,202.72 375.02,202.73 375.3,202.73 375.58,202.74 375.85,202.74 376.13,202.75 376.41,202.75 376.68,202.76 376.96,202.76 377.24,202.76 377.51,202.77 377.79,202.77 378.07,202.78 378.35,202.78 378.62,202.78 378.9,202.79 379.18,202.79 379.45,202.79 379.73,202.79 380.01,202.8 380.28,202.8 380.56,202.8 380.84,202.8 381.12,202.8 381.39,202.8 381.67,202.8 381.95,202.8 382.22,202.8 382.5,202.8" fill="none" stroke="#f3a594" stroke-width="0.9" stroke-linejoin="round" />
<rect x="244.3" y="162" width="138.2" height="41.3" fill="none" stroke="#2a2a2a" stroke-width="1"/>
<line x1="278.85" y1="162" x2="278.85" y2="163.8" stroke="#2a2a2a" stroke-width="0.8" />
<line x1="278.85" y1="203.3" x2="278.85" y2="201.5" stroke="#2a2a2a" stroke-width="0.8" />
<line x1="313.4" y1="162" x2="313.4" y2="163.8" stroke="#2a2a2a" stroke-width="0.8" />
<line x1="313.4" y1="203.3" x2="313.4" y2="201.5" stroke="#2a2a2a" stroke-width="0.8" />
<line x1="347.95" y1="162" x2="347.95" y2="163.8" stroke="#2a2a2a" stroke-width="0.8" />
<line x1="347.95" y1="203.3" x2="347.95" y2="201.5" stroke="#2a2a2a" stroke-width="0.8" />
<line x1="244.3" y1="182.65" x2="246.1" y2="182.65" stroke="#2a2a2a" stroke-width="0.8" />
<line x1="382.5" y1="182.65" x2="380.7" y2="182.65" stroke="#2a2a2a" stroke-width="0.8" />
<text x="240.5" y="165.1" font-size="9.6" font-weight="bold" text-anchor="end" fill="#000" >1</text>
<text x="242.7" y="185.65" font-size="9.6" font-weight="bold" text-anchor="end" fill="#000" >0.5</text>
<text x="240.1" y="206.1" font-size="9.6" font-weight="bold" text-anchor="end" fill="#000" >0</text>
<text x="244.9" y="212.6" font-size="9.6" font-weight="bold" text-anchor="middle" fill="#000" >-20</text>
<text x="279.45" y="212.6" font-size="9.6" font-weight="bold" text-anchor="middle" fill="#000" >-10</text>
<text x="313.7" y="212.6" font-size="9.6" font-weight="bold" text-anchor="middle" fill="#000" >0</text>
<text x="348.25" y="212.6" font-size="9.6" font-weight="bold" text-anchor="middle" fill="#000" >10</text>
<text x="382.8" y="212.6" font-size="9.6" font-weight="bold" text-anchor="middle" fill="#000" >20</text>
<text x="318.2" y="221.3" font-size="10.5" font-weight="bold" text-anchor="middle" fill="#000" >Degree (<tspan font-size="8.6" dy="-0.3">°</tspan><tspan dy="0.3">)</tspan></text>
<text transform="translate(221.8,111.3) rotate(-90)" font-size="10" font-weight="bold" text-anchor="middle">Intensity (a.u.)</text>
<text x="394.2" y="9.1" font-size="9.5" font-weight="bold" text-anchor="middle" fill="#000" >(c)</text>
<polyline points="410,59.99 410.42,59.92 410.84,60.05 411.26,60.19 411.68,60.09 412.1,60.21 412.53,59.96 412.95,59.65 413.37,60.08 413.79,60.11 414.21,59.84 414.63,59.87 415.05,59.93 415.47,60.17 415.89,59.95 416.31,59.77 416.74,60.25 417.16,60.04 417.58,60.38 418,60.23 418.42,60.35 418.84,59.96 419.26,60.21 419.68,59.83 420.1,59.85 420.52,59.93 420.95,60.48 421.37,60 421.79,59.88 422.21,59.84 422.63,60.22 423.05,59.97 423.47,60.08 423.89,60.03 424.31,59.58 424.73,60.02 425.16,59.83 425.58,59.6 426,59.95 426.42,59.83 426.84,59.77 427.26,59.77 427.68,60.08 428.1,59.76 428.52,59.44 428.94,60.13 429.36,59.54 429.79,59.71 430.21,59.89 430.63,59.24 431.05,59.53 431.47,60 431.89,59.68 432.31,59.54 432.73,59.72 433.15,59.5 433.57,59.67 434,59.48 434.42,59.28 434.84,59.79 435.26,59.56 435.68,59.71 436.1,59.56 436.52,59.87 436.94,59.71 437.36,59.6 437.78,59.32 438.21,59.25 438.63,59.85 439.05,59.7 439.47,59.34 439.89,59.98 440.31,59.59 440.73,59.49 441.15,59.14 441.57,59.27 441.99,59.52 442.41,59.52 442.84,59.48 443.26,59.03 443.68,59.51 444.1,59.47 444.52,59.3 444.94,59.41 445.36,59.42 445.78,59.64 446.2,59.36 446.62,59.46 447.05,59.05 447.47,59.18 447.89,59.34 448.31,59.16 448.73,59.41 449.15,59.06 449.57,59.32 449.99,59.17 450.41,59.63 450.83,59.22 451.26,59.72 451.68,59.81 452.1,59.37 452.52,59.51 452.94,59.24 453.36,58.71 453.78,59.48 454.2,59.42 454.62,59.21 455.04,59.13 455.47,59.29 455.89,59.29 456.31,59.05 456.73,59.09 457.15,59.47 457.57,59.22 457.99,59.18 458.41,59.45 458.83,59.1 459.25,59.37 459.67,58.89 460.1,59.07 460.52,59.07 460.94,59.22 461.36,59.07 461.78,59.51 462.2,59.21 462.62,58.6 463.04,58.96 463.46,57.78 463.88,58.17 464.31,57.16 464.73,57.4 465.15,56.67 465.57,56.72 465.99,57.22 466.41,56.41 466.83,56.41 467.25,56.93 467.67,57.03 468.09,56.92 468.52,56.79 468.94,55.47 469.36,55.17 469.78,54.02 470.2,53.03 470.62,50.91 471.04,48.71 471.46,44.7 471.88,42.82 472.3,38.89 472.72,36.38 473.15,34.42 473.57,32.73 473.99,32.17 474.41,30.98 474.83,30.2 475.25,27.71 475.67,26.06 476.09,23.36 476.51,20 476.93,20.82 477.36,22.51 477.78,23.29 478.2,24.64 478.62,29.71 479.04,31.17 479.46,34.13 479.88,37.29 480.3,37.34 480.72,39.63 481.14,41.19 481.57,43.23 481.99,43.98 482.41,46.03 482.83,47.3 483.25,49.18 483.67,50.43 484.09,50.26 484.51,51.86 484.93,52.31 485.35,53.14 485.78,53.84 486.2,54.2 486.62,53.86 487.04,53.85 487.46,53.13 487.88,52.28 488.3,51.1 488.72,50.64 489.14,50.09 489.56,49.97 489.98,50.01 490.41,48.66 490.83,48.4 491.25,48.61 491.67,47.7 492.09,46.61 492.51,45.42 492.93,44.23 493.35,44.08 493.77,42.02 494.19,42.87 494.62,40.63 495.04,39.91 495.46,38.7 495.88,36.96 496.3,36.03 496.72,36.36 497.14,33.92 497.56,29.85 497.98,32.83 498.4,32.9 498.83,30.39 499.25,30.15 499.67,29.33 500.09,28.63 500.51,32.18 500.93,35.56 501.35,38.79 501.77,42.74 502.19,45.72 502.61,47.14 503.03,49.46 503.46,51.33 503.88,51.55 504.3,52.66 504.72,53.21 505.14,54.36 505.56,54.77 505.98,55.37 506.4,55.78 506.82,55.86 507.24,56.6 507.67,56.65 508.09,57.03 508.51,56.87 508.93,58.16 509.35,57.75 509.77,58.21 510.19,58.34 510.61,58.88 511.03,58.74 511.45,58.55 511.88,58.88 512.3,58.94 512.72,59.11 513.14,58.81 513.56,59.16 513.98,59.75 514.4,59.39 514.82,59.73 515.24,60.08 515.66,59.41 516.09,58.96 516.51,59.3 516.93,59.63 517.35,59.59 517.77,59.08 518.19,59.34 518.61,59.39 519.03,59.42 519.45,59.41 519.87,59.24 520.29,59.31 520.72,59.41 521.14,59.73 521.56,59.35 521.98,59.66 522.4,59.23 522.82,59.82 523.24,59.55 523.66,59.52 524.08,59.86 524.5,59.11 524.93,59.18 525.35,59.66 525.77,59.37 526.19,59.47 526.61,60.21 527.03,59.51 527.45,59.6 527.87,59.57 528.29,59.86 528.71,59.67 529.14,59.65 529.56,59.32 529.98,59.54 530.4,59.63 530.82,59.26 531.24,59.77 531.66,59.74 532.08,60.09 532.5,59.27 532.92,59.43 533.34,59.44 533.77,59.51 534.19,59.65 534.61,59.63 535.03,59.75 535.45,59.74 535.87,59.69 536.29,59.34 536.71,59.58 537.13,59.73 537.55,59.86 537.98,59.88 538.4,59.34 538.82,59.61 539.24,59.72 539.66,59.83 540.08,60.01 540.5,59.77 540.92,59.54 541.34,59.85 541.76,59.82 542.19,59.82 542.61,59.74 543.03,60.15 543.45,59.83 543.87,59.98 544.29,59.56 544.71,59.96 545.13,59.64 545.55,59.41 545.97,59.86 546.4,59.93 546.82,59.74 547.24,59.79 547.66,60.03 548.08,59.68 548.5,59.3" fill="none" stroke="#f3c14a" stroke-width="0.8" stroke-linejoin="round" />
<rect x="410" y="20" width="138.5" height="40.6" fill="none" stroke="#2a2a2a" stroke-width="1"/>
<line x1="444.62" y1="20" x2="444.62" y2="21.8" stroke="#2a2a2a" stroke-width="0.8" />
<line x1="444.62" y1="60.6" x2="444.62" y2="58.8" stroke="#2a2a2a" stroke-width="0.8" />
<line x1="479.25" y1="20" x2="479.25" y2="21.8" stroke="#2a2a2a" stroke-width="0.8" />
<line x1="479.25" y1="60.6" x2="479.25" y2="58.8" stroke="#2a2a2a" stroke-width="0.8" />
<line x1="513.88" y1="20" x2="513.88" y2="21.8" stroke="#2a2a2a" stroke-width="0.8" />
<line x1="513.88" y1="60.6" x2="513.88" y2="58.8" stroke="#2a2a2a" stroke-width="0.8" />
<line x1="410" y1="40.3" x2="411.8" y2="40.3" stroke="#2a2a2a" stroke-width="0.8" />
<line x1="548.5" y1="40.3" x2="546.7" y2="40.3" stroke="#2a2a2a" stroke-width="0.8" />
<text x="406.2" y="23.1" font-size="9.6" font-weight="bold" text-anchor="end" fill="#000" >1</text>
<text x="408.4" y="43.3" font-size="9.6" font-weight="bold" text-anchor="end" fill="#000" >0.5</text>
<text x="405.8" y="63.4" font-size="9.6" font-weight="bold" text-anchor="end" fill="#000" >0</text>
<text x="410.6" y="69.9" font-size="9.6" font-weight="bold" text-anchor="middle" fill="#000" >-20</text>
<text x="445.23" y="69.9" font-size="9.6" font-weight="bold" text-anchor="middle" fill="#000" >-10</text>
<text x="479.55" y="69.9" font-size="9.6" font-weight="bold" text-anchor="middle" fill="#000" >0</text>
<text x="514.17" y="69.9" font-size="9.6" font-weight="bold" text-anchor="middle" fill="#000" >10</text>
<text x="548.8" y="69.9" font-size="9.6" font-weight="bold" text-anchor="middle" fill="#000" >20</text>
<text x="484.05" y="78.6" font-size="10.5" font-weight="bold" text-anchor="middle" fill="#000" >Degree (<tspan font-size="8.6" dy="-0.3">°</tspan><tspan dy="0.3">)</tspan></text>
<text x="559.4" y="40.1" font-size="10" font-weight="bold" text-anchor="start"><tspan font-style="italic">I</tspan> = 2.0<tspan font-style="italic">I</tspan><tspan font-size="7.2" font-weight="normal" stroke="#000" stroke-width="0.25">th</tspan></text>
<polyline points="410,131.05 410.42,131.04 410.84,131.23 411.26,130.91 411.68,131.27 412.1,131.23 412.53,130.67 412.95,131.18 413.37,130.71 413.79,130.6 414.21,130.89 414.63,130.82 415.05,130.49 415.47,130.98 415.89,131.07 416.31,131.24 416.74,130.91 417.16,130.57 417.58,130.69 418,131.13 418.42,131.1 418.84,131.01 419.26,130.82 419.68,130.93 420.1,130.83 420.52,130.8 420.95,130.94 421.37,130.87 421.79,130.8 422.21,130.87 422.63,130.72 423.05,130.39 423.47,130.69 423.89,130.81 424.31,131.21 424.73,130.72 425.16,131.26 425.58,131.13 426,130.59 426.42,130.62 426.84,130.81 427.26,131.17 427.68,130.85 428.1,130.92 428.52,130.6 428.94,130.2 429.36,130.68 429.79,130.91 430.21,131 430.63,130.73 431.05,130.75 431.47,130.97 431.89,130.66 432.31,130.96 432.73,130.41 433.15,130.42 433.57,130.4 434,130.77 434.42,130.52 434.84,130.67 435.26,130.73 435.68,130.71 436.1,130.93 436.52,130.96 436.94,130.41 437.36,130.64 437.78,130.53 438.21,130.34 438.63,130.99 439.05,130.75 439.47,130.51 439.89,130.45 440.31,130.63 440.73,130.29 441.15,130.48 441.57,130.82 441.99,130.74 442.41,130.31 442.84,130.39 443.26,130.95 443.68,130.16 444.1,130.33 444.52,130.14 444.94,130.56 445.36,130.53 445.78,130.72 446.2,129.82 446.62,130.47 447.05,130.03 447.47,130.57 447.89,130.36 448.31,130.8 448.73,130.48 449.15,130.13 449.57,130.67 449.99,130.09 450.41,130.25 450.83,130.58 451.26,130.44 451.68,130.41 452.1,130.3 452.52,130.41 452.94,130.47 453.36,130.32 453.78,130.49 454.2,130.54 454.62,130.21 455.04,129.96 455.47,130.55 455.89,130.14 456.31,130.28 456.73,130.34 457.15,129.85 457.57,130.16 457.99,129.61 458.41,130.15 458.83,129.81 459.25,129.91 459.67,130 460.1,129.59 460.52,129.69 460.94,129.37 461.36,129.4 461.78,129.51 462.2,129.07 462.62,128.82 463.04,128.36 463.46,128.67 463.88,128.2 464.31,128.48 464.73,127.54 465.15,127.86 465.57,127.89 465.99,127.13 466.41,126.53 466.83,127.11 467.25,126.65 467.67,126.15 468.09,125.81 468.52,124.38 468.94,123.16 469.36,120.9 469.78,117.71 470.2,115.88 470.62,112.38 471.04,109.97 471.46,106.74 471.88,104.19 472.3,98.54 472.72,98.88 473.15,96.95 473.57,96.05 473.99,94.85 474.41,94.01 474.83,91.06 475.25,93.33 475.67,93.17 476.09,92.09 476.51,92.29 476.93,90.8 477.36,90.8 477.78,93.03 478.2,94.15 478.62,93.71 479.04,92.73 479.46,98.1 479.88,95.81 480.3,98.44 480.72,97.28 481.14,99.94 481.57,99.77 481.99,101.53 482.41,101.93 482.83,101.43 483.25,104.01 483.67,107.01 484.09,109.2 484.51,111.89 484.93,112.63 485.35,113.45 485.78,113.69 486.2,113.79 486.62,114.49 487.04,113.9 487.46,113.95 487.88,113.23 488.3,112.99 488.72,114.31 489.14,114.77 489.56,114.39 489.98,114.46 490.41,113.71 490.83,112.07 491.25,111.38 491.67,108.75 492.09,107.3 492.51,104.84 492.93,103.08 493.35,101.63 493.77,99.66 494.19,96.98 494.62,96.02 495.04,95.4 495.46,97.65 495.88,100.2 496.3,98.24 496.72,98.35 497.14,96.49 497.56,95.54 497.98,96.8 498.4,94.07 498.83,93.65 499.25,93.81 499.67,94.26 500.09,94.82 500.51,96.37 500.93,96.78 501.35,98.44 501.77,99.97 502.19,103.86 502.61,106.79 503.03,111.8 503.46,117.73 503.88,121.97 504.3,122.48 504.72,123.98 505.14,123.54 505.56,123.99 505.98,124.34 506.4,124.61 506.82,125.25 507.24,125.36 507.67,125.29 508.09,125.63 508.51,126 508.93,126.88 509.35,126.5 509.77,126.6 510.19,126.94 510.61,127.45 511.03,128.23 511.45,127.67 511.88,128.16 512.3,129.02 512.72,128.33 513.14,129.02 513.56,129.1 513.98,129.04 514.4,128.63 514.82,129.19 515.24,129.12 515.66,128.8 516.09,128.91 516.51,129.42 516.93,129.51 517.35,129.83 517.77,129.72 518.19,129.47 518.61,129.51 519.03,129.63 519.45,129.43 519.87,129.92 520.29,129.77 520.72,129.59 521.14,129.66 521.56,129.56 521.98,129.76 522.4,129.96 522.82,129.81 523.24,130.18 523.66,130.37 524.08,129.82 524.5,130.01 524.93,129.93 525.35,130.46 525.77,130.15 526.19,130.23 526.61,130.31 527.03,130.68 527.45,130.22 527.87,129.93 528.29,130.08 528.71,130.35 529.14,130.22 529.56,130.05 529.98,130.94 530.4,130.31 530.82,130.16 531.24,130.15 531.66,129.92 532.08,130.08 532.5,130.3 532.92,130.32 533.34,130.22 533.77,130.56 534.19,130.46 534.61,130.24 535.03,130 535.45,130.54 535.87,130.52 536.29,130.48 536.71,130.22 537.13,130.57 537.55,130.22 537.98,130.82 538.4,130.65 538.82,130.67 539.24,130.44 539.66,130.39 540.08,131.02 540.5,130.89 540.92,130.6 541.34,130.85 541.76,131.06 542.19,130.46 542.61,130.6 543.03,130.61 543.45,130.85 543.87,130.5 544.29,130.81 544.71,130.5 545.13,130.98 545.55,130.97 545.97,130.73 546.4,130.95 546.82,130.62 547.24,130.72 547.66,131.01 548.08,130.77 548.5,130.87" fill="none" stroke="#f5b585" stroke-width="0.8" stroke-linejoin="round" />
<rect x="410" y="90.8" width="138.5" height="40.6" fill="none" stroke="#2a2a2a" stroke-width="1"/>
<line x1="444.62" y1="90.8" x2="444.62" y2="92.6" stroke="#2a2a2a" stroke-width="0.8" />
<line x1="444.62" y1="131.4" x2="444.62" y2="129.6" stroke="#2a2a2a" stroke-width="0.8" />
<line x1="479.25" y1="90.8" x2="479.25" y2="92.6" stroke="#2a2a2a" stroke-width="0.8" />
<line x1="479.25" y1="131.4" x2="479.25" y2="129.6" stroke="#2a2a2a" stroke-width="0.8" />
<line x1="513.88" y1="90.8" x2="513.88" y2="92.6" stroke="#2a2a2a" stroke-width="0.8" />
<line x1="513.88" y1="131.4" x2="513.88" y2="129.6" stroke="#2a2a2a" stroke-width="0.8" />
<line x1="410" y1="111.1" x2="411.8" y2="111.1" stroke="#2a2a2a" stroke-width="0.8" />
<line x1="548.5" y1="111.1" x2="546.7" y2="111.1" stroke="#2a2a2a" stroke-width="0.8" />
<text x="406.2" y="93.9" font-size="9.6" font-weight="bold" text-anchor="end" fill="#000" >1</text>
<text x="408.4" y="114.1" font-size="9.6" font-weight="bold" text-anchor="end" fill="#000" >0.5</text>
<text x="405.8" y="134.2" font-size="9.6" font-weight="bold" text-anchor="end" fill="#000" >0</text>
<text x="410.6" y="140.7" font-size="9.6" font-weight="bold" text-anchor="middle" fill="#000" >-20</text>
<text x="445.23" y="140.7" font-size="9.6" font-weight="bold" text-anchor="middle" fill="#000" >-10</text>
<text x="479.55" y="140.7" font-size="9.6" font-weight="bold" text-anchor="middle" fill="#000" >0</text>
<text x="514.17" y="140.7" font-size="9.6" font-weight="bold" text-anchor="middle" fill="#000" >10</text>
<text x="548.8" y="140.7" font-size="9.6" font-weight="bold" text-anchor="middle" fill="#000" >20</text>
<text x="484.05" y="149.4" font-size="10.5" font-weight="bold" text-anchor="middle" fill="#000" >Degree (<tspan font-size="8.6" dy="-0.3">°</tspan><tspan dy="0.3">)</tspan></text>
<text x="559.4" y="111.1" font-size="10" font-weight="bold" text-anchor="start"><tspan font-style="italic">I</tspan> = 3.0<tspan font-style="italic">I</tspan><tspan font-size="7.2" font-weight="normal" stroke="#000" stroke-width="0.25">th</tspan></text>
<polyline points="410,202.28 410.42,202.64 410.84,202.59 411.26,202.2 411.68,201.96 412.1,202.01 412.53,202.46 412.95,202.42 413.37,202.11 413.79,202.49 414.21,202.68 414.63,202.42 415.05,202.34 415.47,202.63 415.89,202.82 416.31,202.76 416.74,202.26 417.16,202.59 417.58,202.44 418,202.35 418.42,202.24 418.84,202.46 419.26,202.26 419.68,202.57 420.1,202.44 420.52,202.59 420.95,202.07 421.37,202.34 421.79,202.49 422.21,202.39 422.63,202.35 423.05,202.12 423.47,202.66 423.89,202.52 424.31,202.35 424.73,201.65 425.16,202.01 425.58,202.25 426,202.05 426.42,201.72 426.84,202.25 427.26,202.27 427.68,201.88 428.1,202.04 428.52,201.99 428.94,202.26 429.36,201.66 429.79,201.7 430.21,201.97 430.63,201.93 431.05,202.57 431.47,201.91 431.89,202.1 432.31,201.94 432.73,201.87 433.15,202.1 433.57,202.42 434,201.9 434.42,202.16 434.84,202.04 435.26,202.1 435.68,202.02 436.1,202.48 436.52,201.6 436.94,201.82 437.36,201.59 437.78,201.36 438.21,201.83 438.63,202.26 439.05,202.02 439.47,202.07 439.89,201.88 440.31,201.71 440.73,202.21 441.15,201.6 441.57,202.05 441.99,201.57 442.41,201.65 442.84,201.67 443.26,201.59 443.68,201.68 444.1,201.67 444.52,201.91 444.94,201.46 445.36,200.95 445.78,200.87 446.2,201 446.62,201.11 447.05,201.42 447.47,200.82 447.89,201.16 448.31,201.1 448.73,201.1 449.15,200.94 449.57,201.02 449.99,200.87 450.41,201.07 450.83,200.81 451.26,200 451.68,200.56 452.1,200.53 452.52,200.22 452.94,200.08 453.36,200.5 453.78,200.15 454.2,199.74 454.62,199.83 455.04,199.78 455.47,199.26 455.89,199.83 456.31,199.51 456.73,199.61 457.15,198.92 457.57,199.88 457.99,199.42 458.41,199.31 458.83,198.87 459.25,198.82 459.67,198.5 460.1,199.34 460.52,198.53 460.94,198.77 461.36,198.8 461.78,198.3 462.2,198.66 462.62,198.92 463.04,198.25 463.46,198.49 463.88,198.06 464.31,197.56 464.73,197.39 465.15,196.73 465.57,197.11 465.99,197.3 466.41,196.7 466.83,196.26 467.25,195.54 467.67,193.75 468.09,192.91 468.52,192.11 468.94,189.27 469.36,187.8 469.78,185.22 470.2,182.85 470.62,179.93 471.04,177.92 471.46,173.98 471.88,171.87 472.3,170.47 472.72,170.31 473.15,171.98 473.57,170.72 473.99,170.69 474.41,169.67 474.83,169.83 475.25,165.3 475.67,165.54 476.09,165.47 476.51,164.78 476.93,162.62 477.36,163.31 477.78,166.31 478.2,168.22 478.62,172.62 479.04,175.88 479.46,178.69 479.88,177.67 480.3,176.12 480.72,173.99 481.14,176.22 481.57,175.84 481.99,177.05 482.41,177.04 482.83,179.72 483.25,180.56 483.67,181.59 484.09,183.25 484.51,183.92 484.93,184.19 485.35,185.54 485.78,185.08 486.2,184.16 486.62,183.43 487.04,183.32 487.46,184.19 487.88,183.36 488.3,182.72 488.72,183.12 489.14,183.75 489.56,184.39 489.98,183.25 490.41,183.52 490.83,183.19 491.25,182.16 491.67,179.78 492.09,179.71 492.51,177.96 492.93,178.13 493.35,175.82 493.77,175.54 494.19,173.7 494.62,170.39 495.04,171.95 495.46,174.16 495.88,174.83 496.3,174.31 496.72,172.16 497.14,172.04 497.56,171.85 497.98,168.95 498.4,167.56 498.83,167.66 499.25,169.51 499.67,174.13 500.09,177.31 500.51,182.7 500.93,185.07 501.35,186.92 501.77,188.93 502.19,190.2 502.61,191.04 503.03,190.92 503.46,192.73 503.88,192.84 504.3,193.01 504.72,193.27 505.14,194.11 505.56,194.12 505.98,194.68 506.4,194.85 506.82,195.3 507.24,196.05 507.67,195.97 508.09,195.96 508.51,196.91 508.93,196.86 509.35,196.68 509.77,197.4 510.19,197.04 510.61,197.56 511.03,196.89 511.45,196.62 511.88,196.96 512.3,198.03 512.72,198.09 513.14,198.67 513.56,199.01 513.98,198.83 514.4,199.91 514.82,199.41 515.24,199.92 515.66,199.67 516.09,200.15 516.51,200.5 516.93,200.33 517.35,200.3 517.77,200.58 518.19,200.54 518.61,200.89 519.03,201.4 519.45,200.65 519.87,200.77 520.29,200.98 520.72,201.05 521.14,200.85 521.56,201.29 521.98,201.4 522.4,201.31 522.82,201 523.24,201.7 523.66,201.08 524.08,201.59 524.5,201.74 524.93,201.18 525.35,201.56 525.77,201.9 526.19,201.69 526.61,201.4 527.03,201.36 527.45,201.8 527.87,201.62 528.29,201.57 528.71,201.93 529.14,201.7 529.56,201.82 529.98,201.97 530.4,201.97 530.82,201.85 531.24,201.88 531.66,202.04 532.08,202.02 532.5,201.66 532.92,201.9 533.34,201.75 533.77,201.69 534.19,201.85 534.61,201.46 535.03,202.22 535.45,201.84 535.87,202.13 536.29,201.62 536.71,201.67 537.13,202.56 537.55,202.34 537.98,201.96 538.4,201.94 538.82,201.96 539.24,202.17 539.66,202.05 540.08,202.02 540.5,202.2 540.92,201.95 541.34,202.74 541.76,202.06 542.19,202.47 542.61,202 543.03,202.29 543.45,202.46 543.87,202.16 544.29,202.48 544.71,202.48 545.13,202.64 545.55,202.28 545.97,202.16 546.4,202.04 546.82,202.32 547.24,202.04 547.66,202.29 548.08,202.31 548.5,202.16" fill="none" stroke="#f3a594" stroke-width="0.8" stroke-linejoin="round" />
<rect x="410" y="162.3" width="138.5" height="40.6" fill="none" stroke="#2a2a2a" stroke-width="1"/>
<line x1="444.62" y1="162.3" x2="444.62" y2="164.1" stroke="#2a2a2a" stroke-width="0.8" />
<line x1="444.62" y1="202.9" x2="444.62" y2="201.1" stroke="#2a2a2a" stroke-width="0.8" />
<line x1="479.25" y1="162.3" x2="479.25" y2="164.1" stroke="#2a2a2a" stroke-width="0.8" />
<line x1="479.25" y1="202.9" x2="479.25" y2="201.1" stroke="#2a2a2a" stroke-width="0.8" />
<line x1="513.88" y1="162.3" x2="513.88" y2="164.1" stroke="#2a2a2a" stroke-width="0.8" />
<line x1="513.88" y1="202.9" x2="513.88" y2="201.1" stroke="#2a2a2a" stroke-width="0.8" />
<line x1="410" y1="182.6" x2="411.8" y2="182.6" stroke="#2a2a2a" stroke-width="0.8" />
<line x1="548.5" y1="182.6" x2="546.7" y2="182.6" stroke="#2a2a2a" stroke-width="0.8" />
<text x="406.2" y="165.4" font-size="9.6" font-weight="bold" text-anchor="end" fill="#000" >1</text>
<text x="408.4" y="185.6" font-size="9.6" font-weight="bold" text-anchor="end" fill="#000" >0.5</text>
<text x="405.8" y="205.7" font-size="9.6" font-weight="bold" text-anchor="end" fill="#000" >0</text>
<text x="410.6" y="212.2" font-size="9.6" font-weight="bold" text-anchor="middle" fill="#000" >-20</text>
<text x="445.23" y="212.2" font-size="9.6" font-weight="bold" text-anchor="middle" fill="#000" >-10</text>
<text x="479.55" y="212.2" font-size="9.6" font-weight="bold" text-anchor="middle" fill="#000" >0</text>
<text x="514.17" y="212.2" font-size="9.6" font-weight="bold" text-anchor="middle" fill="#000" >10</text>
<text x="548.8" y="212.2" font-size="9.6" font-weight="bold" text-anchor="middle" fill="#000" >20</text>
<text x="484.05" y="220.9" font-size="10.5" font-weight="bold" text-anchor="middle" fill="#000" >Degree (<tspan font-size="8.6" dy="-0.3">°</tspan><tspan dy="0.3">)</tspan></text>
<text x="559.4" y="182.9" font-size="10" font-weight="bold" text-anchor="start"><tspan font-style="italic">I</tspan> = 4.0<tspan font-style="italic">I</tspan><tspan font-size="7.2" font-weight="normal" stroke="#000" stroke-width="0.25">th</tspan></text>
<text x="22.3" y="244.2" font-size="9.5" font-weight="bold" text-anchor="middle" fill="#000" >(d)</text>
<text x="38.5" y="257.4" font-size="9.5" font-weight="normal" text-anchor="middle" fill="#000" >Laser</text>
<text x="113" y="262.8" font-size="9.4" font-weight="normal" text-anchor="middle" fill="#000" >Aspheric Lens</text>
<text x="195" y="262.2" font-size="9.4" font-weight="normal" text-anchor="middle" fill="#000" >Diffuser</text>
<text x="285.2" y="258.2" font-size="9.4" font-weight="normal" text-anchor="middle" fill="#000" >CCD camera</text>
<defs>
<linearGradient id="beamv" x1="0" y1="0" x2="0" y2="1"><stop offset="0" stop-color="#fbdcc6" stop-opacity="0"/><stop offset="0.25" stop-color="#fad8c0" stop-opacity="1"/><stop offset="0.75" stop-color="#fad8c0" stop-opacity="1"/><stop offset="1" stop-color="#fbdcc6" stop-opacity="0"/></linearGradient>
<radialGradient id="glow" cx="0.5" cy="0.5" r="0.5"><stop offset="0" stop-color="#f29a55" stop-opacity="0.95"/><stop offset="0.5" stop-color="#f5b27c" stop-opacity="0.6"/><stop offset="1" stop-color="#f8cba8" stop-opacity="0"/></radialGradient>
<linearGradient id="lensg" x1="0" y1="0" x2="1" y2="1"><stop offset="0" stop-color="#edf2fa"/><stop offset="1" stop-color="#ccd9ee"/></linearGradient>
<linearGradient id="cyl" x1="0" y1="0" x2="0" y2="1"><stop offset="0" stop-color="#8a8a8a"/><stop offset="0.35" stop-color="#c4c4c4"/><stop offset="1" stop-color="#7c7c7c"/></linearGradient>
<linearGradient id="topface" x1="0" y1="0" x2="1" y2="1"><stop offset="0" stop-color="#f6f6f8"/><stop offset="1" stop-color="#e2e2e6"/></linearGradient><linearGradient id="frontf" x1="0" y1="0" x2="1" y2="0.4"><stop offset="0" stop-color="#e4e4e4"/><stop offset="1" stop-color="#bdbdbd"/></linearGradient>
<filter id="sp1" x="0" y="0" width="1" height="1" color-interpolation-filters="sRGB"><feTurbulence type="fractalNoise" baseFrequency="0.36 0.40" numOctaves="2" seed="3"/><feColorMatrix type="matrix" values="1 0 0 0 0  1 0 0 0 0  1 0 0 0 0  0 0 0 0 1" result="n"/><feTurbulence type="fractalNoise" baseFrequency="0.11 0.13" numOctaves="2" seed="43"/><feColorMatrix type="matrix" values="1 0 0 0 0  1 0 0 0 0  1 0 0 0 0  0 0 0 0 1" result="m"/><feComposite in="n" in2="m" operator="arithmetic" k1="0.600" k2="0.700" k3="0" k4="0"/><feColorMatrix type="matrix" values="1.2 0 0 0 -0.28  1.2 0 0 0 -0.28  1.2 0 0 0 -0.28  0 0 0 0 1"/><feComponentTransfer><feFuncR type="gamma" exponent="1.7" amplitude="1" offset="0"/><feFuncG type="gamma" exponent="1.7" amplitude="1" offset="0"/><feFuncB type="gamma" exponent="1.7" amplitude="1" offset="0"/></feComponentTransfer><feGaussianBlur stdDeviation="0.45"/></filter>
<filter id="sp2" x="0" y="0" width="1" height="1" color-interpolation-filters="sRGB"><feTurbulence type="fractalNoise" baseFrequency="0.30 0.7" numOctaves="2" seed="11"/><feColorMatrix type="matrix" values="1 0 0 0 0  1 0 0 0 0  1 0 0 0 0  0 0 0 0 1" result="n"/><feTurbulence type="fractalNoise" baseFrequency="0.03 0.12" numOctaves="2" seed="51"/><feColorMatrix type="matrix" values="1 0 0 0 0  1 0 0 0 0  1 0 0 0 0  0 0 0 0 1" result="m"/><feComposite in="n" in2="m" operator="arithmetic" k1="0.500" k2="0.750" k3="0" k4="0"/><feColorMatrix type="matrix" values="0.66 0 0 0 0.045  0.66 0 0 0 0.045  0.66 0 0 0 0.045  0 0 0 0 1"/><feComponentTransfer><feFuncR type="gamma" exponent="1.1" amplitude="1" offset="0"/><feFuncG type="gamma" exponent="1.1" amplitude="1" offset="0"/><feFuncB type="gamma" exponent="1.1" amplitude="1" offset="0"/></feComponentTransfer><feGaussianBlur stdDeviation="0.3"/></filter>
<filter id="sp3" x="0" y="0" width="1" height="1" color-interpolation-filters="sRGB"><feTurbulence type="fractalNoise" baseFrequency="0.42 0.46" numOctaves="2" seed="23"/><feColorMatrix type="matrix" values="1 0 0 0 0  1 0 0 0 0  1 0 0 0 0  0 0 0 0 1" result="n"/><feTurbulence type="fractalNoise" baseFrequency="0.11 0.13" numOctaves="2" seed="63"/><feColorMatrix type="matrix" values="1 0 0 0 0  1 0 0 0 0  1 0 0 0 0  0 0 0 0 1" result="m"/><feComposite in="n" in2="m" operator="arithmetic" k1="0.500" k2="0.750" k3="0" k4="0"/><feColorMatrix type="matrix" values="0.85 0 0 0 -0.07  0.85 0 0 0 -0.07  0.85 0 0 0 -0.07  0 0 0 0 1"/><feComponentTransfer><feFuncR type="gamma" exponent="1.3" amplitude="1" offset="0"/><feFuncG type="gamma" exponent="1.3" amplitude="1" offset="0"/><feFuncB type="gamma" exponent="1.3" amplitude="1" offset="0"/></feComponentTransfer><feGaussianBlur stdDeviation="0.4"/></filter>
<filter id="sp4" x="0" y="0" width="1" height="1" color-interpolation-filters="sRGB"><feTurbulence type="fractalNoise" baseFrequency="0.22 0.6" numOctaves="2" seed="5"/><feColorMatrix type="matrix" values="1 0 0 0 0  1 0 0 0 0  1 0 0 0 0  0 0 0 0 1" result="n"/><feTurbulence type="fractalNoise" baseFrequency="0.03 0.12" numOctaves="2" seed="45"/><feColorMatrix type="matrix" values="1 0 0 0 0  1 0 0 0 0  1 0 0 0 0  0 0 0 0 1" result="m"/><feComposite in="n" in2="m" operator="arithmetic" k1="0.500" k2="0.750" k3="0" k4="0"/><feColorMatrix type="matrix" values="0.55 0 0 0 0.13  0.55 0 0 0 0.13  0.55 0 0 0 0.13  0 0 0 0 1"/><feComponentTransfer><feFuncR type="gamma" exponent="1.0" amplitude="1" offset="0"/><feFuncG type="gamma" exponent="1.0" amplitude="1" offset="0"/><feFuncB type="gamma" exponent="1.0" amplitude="1" offset="0"/></feComponentTransfer><feGaussianBlur stdDeviation="0.3"/></filter>
</defs>
<rect x="47" y="277.6" width="225" height="9.6" fill="url(#beamv)"/>
<polygon points="196,278.6 270,277.0 270,288.2 196,286.4" fill="#fad8c0" opacity="0.6"/>
<ellipse cx="55" cy="283" rx="14" ry="8.2" fill="url(#glow)"/>
<polygon points="11.8,279.5 40.0,288.8 40.0,299.20000000000005 11.8,288.5" fill="url(#frontf)"/>
<polygon points="40.0,288.8 59.6,269.0 59.6,277.6 40.0,299.20000000000005" fill="#c9c6c6"/>
<polyline points="11.8,283.0 40.0,292.90000000000003 59.6,271.6" fill="none" stroke="#e4574a" stroke-width="0.9"/>
<polygon points="35.6,263.8 59.6,269.0 40.0,288.8 11.8,279.5" fill="url(#topface)"/>
<line x1="14.18" y1="277.93" x2="41.96" y2="286.82" stroke="#f1cf52" stroke-width="0.7" />
<line x1="17.43" y1="275.78" x2="44.64" y2="284.11" stroke="#f6e09a" stroke-width="0.7" />
<line x1="20.69" y1="273.64" x2="47.32" y2="281.41" stroke="#f1cf52" stroke-width="0.7" />
<line x1="23.94" y1="271.49" x2="50" y2="278.7" stroke="#f6e09a" stroke-width="0.7" />
<line x1="27.19" y1="269.35" x2="52.67" y2="276" stroke="#f1cf52" stroke-width="0.7" />
<line x1="30.44" y1="267.2" x2="55.35" y2="273.29" stroke="#f6e09a" stroke-width="0.7" />
<line x1="33.7" y1="265.06" x2="58.03" y2="270.58" stroke="#f1cf52" stroke-width="0.7" />
<line x1="15.61" y1="276.99" x2="43.14" y2="285.63" stroke="#c7c7d2" stroke-width="0.4" />
<line x1="18.94" y1="274.79" x2="45.88" y2="282.86" stroke="#c7c7d2" stroke-width="0.4" />
<line x1="22.27" y1="272.59" x2="48.62" y2="280.09" stroke="#c7c7d2" stroke-width="0.4" />
<line x1="25.6" y1="270.39" x2="51.37" y2="277.32" stroke="#c7c7d2" stroke-width="0.4" />
<line x1="28.94" y1="268.2" x2="54.11" y2="274.54" stroke="#c7c7d2" stroke-width="0.4" />
<line x1="32.27" y1="266" x2="56.86" y2="271.77" stroke="#c7c7d2" stroke-width="0.4" />
<ellipse cx="51.5" cy="281.5" rx="7.5" ry="6.5" fill="url(#glow)" opacity="0.95"/>
<ellipse cx="116.4" cy="284.5" rx="6.4" ry="14.9" fill="#f3f5f9" stroke="#c4ccd9" stroke-width="0.5"/>
<ellipse cx="112.6" cy="284.0" rx="6.4" ry="14.9" fill="url(#lensg)" stroke="#d5deec" stroke-width="0.5" opacity="0.96"/>
<rect x="106.4" y="279.0" width="13" height="7.0" fill="#f8cba8" opacity="0.1"/>
<ellipse cx="193.6" cy="283.4" rx="6.5" ry="14.8" fill="#dcdcdc"/>
<ellipse cx="190.9" cy="283.0" rx="6.6" ry="15.0" fill="#a7a6a6"/>
<rect x="184.4" y="278.8" width="12.6" height="7.4" fill="#f1b48a" opacity="0.2"/>
<polygon points="274,269.8 279,265.4 293.4,269.6 293.4,298.6 285,296.2 274,292.4" fill="#d2d2d2"/>
<polygon points="274,269.8 279,265.4 293.4,269.6 285.4,272.0" fill="#e2e2e2"/>
<polygon points="274,269.8 285.4,272.0 285.4,296.4 274,292.4" fill="#c6c6c6"/>
<polygon points="285.6,273.0 291.0,272.0 291.0,294.6 285.6,295.6" fill="#1c1c1c"/>
<rect x="293.0" y="269.3" width="2.5" height="29.4" rx="0.9" fill="#161616"/>
<rect x="271.5" y="276.0" width="10.0" height="13.5" fill="url(#cyl)"/>
<ellipse cx="271.6" cy="282.7" rx="2.5" ry="6.75" fill="#8e8e8e"/>
<rect x="47.0" y="313.3" width="101.2" height="81.3" fill="#2b2b2b"/>
<rect x="47.0" y="313.3" width="101.2" height="81.3" fill="#2b2b2b" filter="url(#sp1)"/>
<rect x="165.0" y="313.3" width="101.8" height="81.3" fill="#555"/>
<rect x="165.0" y="313.3" width="101.8" height="81.3" fill="#555" filter="url(#sp2)"/>
<rect x="47.0" y="408.5" width="101.2" height="82" fill="#444"/>
<rect x="47.0" y="408.5" width="101.2" height="82" fill="#444" filter="url(#sp3)"/>
<rect x="164.2" y="408.4" width="102.1" height="82" fill="#686868"/>
<rect x="164.2" y="408.4" width="102.1" height="82" fill="#686868" filter="url(#sp4)"/>
<text x="99.2" y="392" font-size="10.5" font-weight="bold" text-anchor="middle" fill="#fff"><tspan font-style="italic">C</tspan>=68%</text>
<text x="214.8" y="392" font-size="10.5" font-weight="bold" text-anchor="middle" fill="#fff"><tspan font-style="italic">C</tspan>=34%</text>
<text x="98.3" y="487" font-size="10.5" font-weight="bold" text-anchor="middle" fill="#fff"><tspan font-style="italic">C</tspan>=47%</text>
<text x="215.2" y="486.4" font-size="10.5" font-weight="bold" text-anchor="middle" fill="#fff"><tspan font-style="italic">C</tspan>=25%</text>
<text x="284.6" y="358" font-size="10" font-weight="bold" text-anchor="start"><tspan font-style="italic">I</tspan> = 2.0<tspan font-style="italic">I</tspan><tspan font-size="7.2" font-weight="normal" stroke="#000" stroke-width="0.25">th</tspan></text>
<text x="284.6" y="455" font-size="10" font-weight="bold" text-anchor="start"><tspan font-style="italic">I</tspan> = 3.0<tspan font-style="italic">I</tspan><tspan font-size="7.2" font-weight="normal" stroke="#000" stroke-width="0.25">th</tspan></text>
<text x="369.2" y="244.2" font-size="9.5" font-weight="bold" text-anchor="middle" fill="#000" >(e)</text>
<polyline points="375.5,442.96 375.81,442.96 376.13,442.96 376.44,442.96 376.76,442.95 377.07,442.95 377.39,442.95 377.7,442.95 378.02,442.95 378.33,442.95 378.64,442.95 378.96,442.95 379.27,442.95 379.59,442.95 379.9,442.94 380.22,442.94 380.53,442.94 380.85,442.94 381.16,442.94 381.47,442.93 381.79,442.93 382.1,442.93 382.42,442.93 382.73,442.92 383.05,442.92 383.36,442.92 383.68,442.91 383.99,442.91 384.3,442.91 384.62,442.9 384.93,442.9 385.25,442.9 385.56,442.89 385.88,442.89 386.19,442.89 386.51,442.88 386.82,442.88 387.13,442.87 387.45,442.87 387.76,442.86 388.08,442.86 388.39,442.86 388.71,442.85 389.02,442.85 389.34,442.84 389.65,442.84 389.96,442.83 390.28,442.83 390.59,442.82 390.91,442.82 391.22,442.81 391.54,442.8 391.85,442.8 392.17,442.79 392.48,442.79 392.79,442.78 393.11,442.78 393.42,442.77 393.74,442.76 394.05,442.76 394.37,442.75 394.68,442.74 395,442.74 395.31,442.73 395.62,442.72 395.94,442.72 396.25,442.71 396.57,442.7 396.88,442.7 397.2,442.69 397.51,442.68 397.83,442.68 398.14,442.67 398.45,442.66 398.77,442.65 399.08,442.64 399.4,442.62 399.71,442.61 400.03,442.6 400.34,442.58 400.66,442.57 400.97,442.55 401.28,442.54 401.6,442.52 401.91,442.5 402.23,442.48 402.54,442.46 402.86,442.44 403.17,442.42 403.49,442.4 403.8,442.37 404.11,442.35 404.43,442.32 404.74,442.3 405.06,442.27 405.37,442.25 405.69,442.22 406,442.19 406.32,442.16 406.63,442.13 406.94,442.1 407.26,442.07 407.57,442.04 407.89,442.01 408.2,441.98 408.52,441.94 408.83,441.91 409.15,441.87 409.46,441.83 409.77,441.77 410.09,441.7 410.4,441.62 410.72,441.54 411.03,441.47 411.35,441.4 411.66,441.35 411.98,441.33 412.29,441.33 412.61,441.37 412.92,441.44 413.23,441.54 413.55,441.65 413.86,441.75 414.18,441.85 414.49,441.94 414.81,441.99 415.12,442 415.44,442 415.75,442 416.06,442 416.38,442 416.69,442 417.01,442 417.32,442 417.64,442 417.95,442 418.27,442 418.58,442 418.89,442 419.21,442 419.52,442 419.84,442 420.15,442 420.47,442 420.78,441.98 421.1,441.96 421.41,441.92 421.72,441.88 422.04,441.83 422.35,441.77 422.67,441.7 422.98,441.62 423.3,441.54 423.61,441.45 423.93,441.36 424.24,441.26 424.55,441.15 424.87,441.05 425.18,440.94 425.5,440.82 425.81,440.7 426.13,440.59 426.44,440.47 426.76,440.34 427.07,440.22 427.38,440.1 427.7,439.98 428.01,439.86 428.33,439.75 428.64,439.63 428.96,439.51 429.27,439.4 429.59,439.28 429.9,439.16 430.21,439.04 430.53,438.91 430.84,438.77 431.16,438.63 431.47,438.49 431.79,438.33 432.1,438.17 432.42,438 432.73,437.82 433.04,437.63 433.36,437.42 433.67,437.2 433.99,436.97 434.3,436.73 434.62,436.43 434.93,436.07 435.25,435.63 435.56,435.15 435.87,434.63 436.19,434.09 436.5,433.54 436.82,433 437.13,432.47 437.45,431.85 437.76,431.16 438.08,430.45 438.39,429.79 438.7,429.22 439.02,428.83 439.33,428.64 439.65,428.53 439.96,428.43 440.28,428.34 440.59,428.27 440.91,428.21 441.22,428.16 441.53,428.14 441.85,428.13 442.16,428.2 442.48,428.34 442.79,428.54 443.11,428.76 443.42,428.98 443.74,429.17 444.05,429.3 444.36,429.36 444.68,429.25 444.99,428.98 445.31,428.58 445.62,428.14 445.94,427.7 446.25,427.34 446.57,427.1 446.88,427.05 447.19,427.18 447.51,427.44 447.82,427.78 448.14,428.18 448.45,428.6 448.77,428.99 449.08,429.31 449.4,429.54 449.71,429.63 450.02,429.4 450.34,428.76 450.65,427.78 450.97,426.57 451.28,425.21 451.6,423.78 451.91,422.4 452.23,421.13 452.54,420.08 452.85,419.16 453.17,418.17 453.48,417.16 453.8,416.17 454.11,415.26 454.43,414.47 454.74,413.85 455.06,413.45 455.37,413.31 455.68,413.33 456,413.39 456.31,413.49 456.63,413.63 456.94,413.78 457.26,413.97 457.57,414.17 457.89,414.38 458.2,414.6 458.51,414.86 458.83,415.23 459.14,415.7 459.46,416.24 459.77,416.84 460.09,417.49 460.4,418.15 460.72,418.82 461.03,419.48 461.34,420.09 461.66,420.66 461.97,421.19 462.29,421.73 462.6,422.28 462.92,422.83 463.23,423.37 463.55,423.89 463.86,424.39 464.17,424.84 464.49,425.25 464.8,425.61 465.12,425.89 465.43,426.17 465.75,426.43 466.06,426.69 466.38,426.93 466.69,427.15 467,427.33 467.32,427.46 467.63,427.55 467.95,427.59 468.26,427.57 468.58,427.52 468.89,427.43 469.21,427.31 469.52,427.16 469.83,426.98 470.15,426.77 470.46,426.53 470.78,426.27 471.09,425.98 471.41,425.64 471.72,425.01 472.04,424.09 472.35,422.93 472.66,421.58 472.98,420.06 473.29,418.43 473.61,416.14 473.92,412.88 474.24,409.28 474.55,405.99 474.87,403.65 475.18,402.36 475.49,401.34 475.81,400.5 476.12,399.79 476.44,399.18 476.75,398.6 477.07,398.01 477.38,397.36 477.7,396.6 478.01,395.68 478.32,394.54 478.64,393.12 478.95,391.42 479.27,389.5 479.58,387.37 479.9,385.08 480.21,382.56 480.53,379.71 480.84,376.47 481.15,372.82 481.47,368.65 481.78,363.21 482.1,356.77 482.41,349.96 482.73,343.43 483.04,337.79 483.36,332.42 483.67,327.1 483.98,322.16 484.3,317.93 484.61,314.72 484.93,312.35 485.24,310.18 485.56,308.49 485.87,307.58 486.19,307.69 486.5,308.63 486.82,310.19 487.13,312.13 487.44,314.25 487.76,316.9 488.07,320.51 488.39,324.81 488.7,329.58 489.02,334.56 489.33,339.53 489.65,344.81 489.96,350.56 490.27,356.6 490.59,362.74 490.9,368.82 491.22,375.02 491.53,381.67 491.85,388.16 492.16,393.83 492.48,398.16 492.79,401.9 493.1,405.33 493.42,408.4 493.73,411.07 494.05,413.3 494.36,415.05 494.68,416.55 494.99,417.95 495.31,419.22 495.62,420.32 495.93,421.2 496.25,421.83 496.56,422.16 496.88,422.36 497.19,422.53 497.51,422.68 497.82,422.81 498.14,422.91 498.45,423 498.76,423.06 499.08,423.09 499.39,423.1 499.71,423.08 500.02,423.03 500.34,422.96 500.65,422.87 500.97,422.77 501.28,422.65 501.59,422.52 501.91,422.22 502.22,421.74 502.54,421.13 502.85,420.45 503.17,419.77 503.48,419.13 503.8,418.59 504.11,418.22 504.42,418.07 504.74,418.17 505.05,418.47 505.37,418.89 505.68,419.35 506,419.78 506.31,420.11 506.63,420.24 506.94,420.1 507.25,419.66 507.57,418.98 507.88,418.12 508.2,417.14 508.51,416.09 508.83,415.05 509.14,414.06 509.46,413.19 509.77,412.44 510.08,411.62 510.4,410.74 510.71,409.87 511.03,409.03 511.34,408.29 511.66,407.68 511.97,407.26 512.29,407.06 512.6,407.1 512.91,407.31 513.23,407.66 513.54,408.11 513.86,408.63 514.17,409.19 514.49,409.79 514.8,410.57 515.12,411.55 515.43,412.7 515.74,413.99 516.06,415.65 516.37,417.99 516.69,420.77 517,423.73 517.32,426.62 517.63,429.17 517.95,431.12 518.26,432.27 518.57,433.18 518.89,433.98 519.2,434.6 519.52,434.95 519.83,434.97 520.15,434.73 520.46,434.3 520.78,433.72 521.09,433.07 521.4,432.41 521.72,431.78 522.03,431.26 522.35,430.78 522.66,430.25 522.98,429.71 523.29,429.17 523.61,428.66 523.92,428.21 524.23,427.85 524.55,427.59 524.86,427.46 525.18,427.51 525.49,427.75 525.81,428.14 526.12,428.61 526.44,429.11 526.75,429.57 527.06,429.94 527.38,430.15 527.69,430.17 528.01,430.17 528.32,430.17 528.64,430.17 528.95,430.17 529.27,430.17 529.58,430.17 529.89,430.17 530.21,430.19 530.52,430.39 530.84,430.79 531.15,431.34 531.47,431.98 531.78,432.67 532.1,433.37 532.41,434.03 532.72,434.59 533.04,435.02 533.35,435.36 533.67,435.69 533.98,436 534.3,436.31 534.61,436.59 534.93,436.87 535.24,437.14 535.55,437.39 535.87,437.63 536.18,437.87 536.5,438.09 536.81,438.31 537.13,438.51 537.44,438.72 537.76,438.91 538.07,439.1 538.38,439.29 538.7,439.47 539.01,439.67 539.33,439.86 539.64,440.05 539.96,440.24 540.27,440.43 540.59,440.61 540.9,440.79 541.21,440.96 541.53,441.13 541.84,441.28 542.16,441.43 542.47,441.57 542.79,441.69 543.1,441.81 543.42,441.9 543.73,441.99 544.04,442.05 544.36,442.1 544.67,442.14 544.99,442.15 545.3,442.17 545.62,442.18 545.93,442.2 546.25,442.21 546.56,442.23 546.87,442.24 547.19,442.25 547.5,442.27 547.82,442.28 548.13,442.29 548.45,442.3 548.76,442.31 549.08,442.32 549.39,442.33 549.7,442.34 550.02,442.35 550.33,442.36 550.65,442.36 550.96,442.37 551.28,442.38 551.59,442.38 551.91,442.39 552.22,442.39 552.53,442.4 552.85,442.4 553.16,442.4 553.48,442.41 553.79,442.41 554.11,442.41 554.42,442.41 554.74,442.41 555.05,442.41 555.36,442.39 555.68,442.34 555.99,442.27 556.31,442.18 556.62,442.07 556.94,441.97 557.25,441.87 557.57,441.77 557.88,441.69 558.19,441.63 558.51,441.6 558.82,441.6 559.14,441.61 559.45,441.64 559.77,441.69 560.08,441.74 560.4,441.79 560.71,441.86 561.03,441.92 561.34,441.99 561.65,442.06 561.97,442.12 562.28,442.17 562.6,442.22 562.91,442.26 563.23,442.29 563.54,442.32 563.86,442.34 564.17,442.37 564.48,442.39 564.8,442.41 565.11,442.44 565.43,442.46 565.74,442.48 566.06,442.5 566.37,442.52 566.69,442.54 567,442.56 567.31,442.58 567.63,442.6 567.94,442.62 568.26,442.63 568.57,442.65 568.89,442.66 569.2,442.68 569.52,442.69 569.83,442.71 570.14,442.72 570.46,442.73 570.77,442.74 571.09,442.76 571.4,442.77 571.72,442.78 572.03,442.79 572.35,442.8 572.66,442.8 572.97,442.81 573.29,442.82 573.6,442.83 573.92,442.83 574.23,442.84 574.55,442.85 574.86,442.85 575.18,442.86 575.49,442.87 575.8,442.87 576.12,442.88 576.43,442.88 576.75,442.89 577.06,442.9 577.38,442.9 577.69,442.91 578.01,442.91 578.32,442.92 578.63,442.93 578.95,442.93 579.26,442.94 579.58,442.94 579.89,442.95 580.21,442.95 580.52,442.96 580.84,442.96 581.15,442.97 581.46,442.97 581.78,442.98 582.09,442.98 582.41,442.99 582.72,442.99 583.04,443 583.35,443 583.67,443.01 583.98,443.01 584.29,443.02 584.61,443.02 584.92,443.02 585.24,443.03 585.55,443.03 585.87,443.03 586.18,443.04 586.5,443.04 586.81,443.05 587.12,443.05 587.44,443.05 587.75,443.05 588.07,443.06 588.38,443.06 588.7,443.06 589.01,443.07 589.33,443.07 589.64,443.07 589.95,443.07 590.27,443.08 590.58,443.08 590.9,443.08 591.21,443.08 591.53,443.08 591.84,443.08 592.16,443.09 592.47,443.09 592.78,443.09 593.1,443.09 593.41,443.09 593.73,443.09 594.04,443.09 594.36,443.09 594.67,443.09 594.99,443.09 595.3,443.09" fill="none" stroke="#f3c14a" stroke-width="1.0" stroke-linejoin="round" />
<line x1="375" y1="280.3" x2="595.8" y2="280.3" stroke="#565656" stroke-width="1" />
<line x1="595.3" y1="280.3" x2="595.3" y2="443.5" stroke="#565656" stroke-width="1" />
<line x1="375.5" y1="280.3" x2="375.5" y2="443.5" stroke="#7a7a7a" stroke-width="1" />
<line x1="375" y1="443.5" x2="595.8" y2="443.5" stroke="#c4c4c4" stroke-width="1" />
<line x1="412.13" y1="280.3" x2="412.13" y2="282.5" stroke="#565656" stroke-width="0.8" />
<line x1="412.13" y1="443.5" x2="412.13" y2="441.3" stroke="#9a9a9a" stroke-width="0.8" />
<line x1="448.77" y1="280.3" x2="448.77" y2="282.5" stroke="#565656" stroke-width="0.8" />
<line x1="448.77" y1="443.5" x2="448.77" y2="441.3" stroke="#9a9a9a" stroke-width="0.8" />
<line x1="485.4" y1="280.3" x2="485.4" y2="282.5" stroke="#565656" stroke-width="0.8" />
<line x1="485.4" y1="443.5" x2="485.4" y2="441.3" stroke="#9a9a9a" stroke-width="0.8" />
<line x1="522.03" y1="280.3" x2="522.03" y2="282.5" stroke="#565656" stroke-width="0.8" />
<line x1="522.03" y1="443.5" x2="522.03" y2="441.3" stroke="#9a9a9a" stroke-width="0.8" />
<line x1="558.67" y1="280.3" x2="558.67" y2="282.5" stroke="#565656" stroke-width="0.8" />
<line x1="558.67" y1="443.5" x2="558.67" y2="441.3" stroke="#9a9a9a" stroke-width="0.8" />
<line x1="375.5" y1="375.5" x2="377.7" y2="375.5" stroke="#7a7a7a" stroke-width="0.8" />
<line x1="595.3" y1="375.5" x2="593.1" y2="375.5" stroke="#565656" stroke-width="0.8" />
<line x1="375.5" y1="307.5" x2="377.7" y2="307.5" stroke="#7a7a7a" stroke-width="0.8" />
<line x1="595.3" y1="307.5" x2="593.1" y2="307.5" stroke="#565656" stroke-width="0.8" />
<text x="367.3" y="310.6" font-size="9.6" font-weight="bold" text-anchor="end" fill="#000" >1</text>
<text x="367.3" y="378.6" font-size="9.6" font-weight="bold" text-anchor="end" fill="#000" >0.5</text>
<text x="368.4" y="446.9" font-size="9.6" font-weight="bold" text-anchor="end" fill="#000" >0</text>
<text x="372.5" y="453" font-size="9.6" font-weight="bold" text-anchor="middle" fill="#000" >-15</text>
<text x="408.63" y="453" font-size="9.6" font-weight="bold" text-anchor="middle" fill="#000" >-10</text>
<text x="447.87" y="453" font-size="9.6" font-weight="bold" text-anchor="middle" fill="#000" >-5</text>
<text x="485.9" y="453" font-size="9.6" font-weight="bold" text-anchor="middle" fill="#000" >0</text>
<text x="522.53" y="453" font-size="9.6" font-weight="bold" text-anchor="middle" fill="#000" >5</text>
<text x="559.17" y="453" font-size="9.6" font-weight="bold" text-anchor="middle" fill="#000" >10</text>
<text x="595.8" y="453" font-size="9.6" font-weight="bold" text-anchor="middle" fill="#000" >15</text>
<text x="489.2" y="478.2" font-size="11" font-weight="bold" text-anchor="middle" fill="#000" >Degree (<tspan font-size="8.6" dy="-0.3">°</tspan><tspan dy="0.3">)</tspan></text>
<text transform="translate(344.0,375.0) rotate(-90)" font-size="11" font-weight="bold" text-anchor="middle">Intensity (a.u.)</text>
<defs><linearGradient id="dk" x1="0" y1="0" x2="0.08" y2="1"><stop offset="0" stop-color="#e4d3a6"/><stop offset="0.3" stop-color="#dcc7a0"/><stop offset="0.55" stop-color="#d1b6a4"/><stop offset="0.78" stop-color="#c3a1a8"/><stop offset="0.92" stop-color="#c9a8a9"/><stop offset="1" stop-color="#e2c7b4"/></linearGradient><linearGradient id="dkh" x1="0" y1="0" x2="1" y2="0"><stop offset="0" stop-color="#eadbb4" stop-opacity="0.45"/><stop offset="0.45" stop-color="#ecdcae" stop-opacity="0"/></linearGradient><marker id="ah" viewBox="0 0 10 10" refX="9" refY="5" markerWidth="5.5" markerHeight="5.5" orient="auto-start-reverse"><path d="M0,1.2 L10,5 L0,8.8 L2.5,5 Z" fill="#111"/></marker></defs>
<rect x="379.6" y="287.6" width="99.3" height="50.9" fill="#fce6d0"/>
<rect x="379.6" y="287.6" width="99.3" height="10.6" fill="#fde9d5"/>
<line x1="379.6" y1="298.4" x2="478.9" y2="298.4" stroke="#efcdbf" stroke-width="0.6" />
<line x1="379.6" y1="329.8" x2="440" y2="329.8" stroke="#f2d3c0" stroke-width="0.5" />
<line x1="476.3" y1="287.6" x2="476.3" y2="338.5" stroke="#f5d9c6" stroke-width="0.5" />
<text x="382.2" y="296.6" font-size="6.3" font-family="'Liberation Mono', monospace" fill="#f4d0c6" textLength="40" lengthAdjust="spacingAndGlyphs">PEDOM-2.1-M33</text>
<rect x="379.6" y="305" width="42.5" height="19" fill="url(#dk)"/>
<rect x="379.6" y="305" width="42.5" height="19" fill="url(#dkh)"/>
<line x1="422.1" y1="305.2" x2="474.2" y2="305.2" stroke="#ebc3b6" stroke-width="0.6" />
<line x1="422.1" y1="307.1" x2="474.2" y2="307.1" stroke="#f1d2c2" stroke-width="0.6" />
<line x1="422.1" y1="309" x2="474.2" y2="309" stroke="#ebc3b6" stroke-width="0.6" />
<line x1="422.1" y1="310.9" x2="474.2" y2="310.9" stroke="#f1d2c2" stroke-width="0.6" />
<line x1="422.1" y1="312.8" x2="474.2" y2="312.8" stroke="#ebc3b6" stroke-width="0.6" />
<line x1="422.1" y1="314.7" x2="474.2" y2="314.7" stroke="#f1d2c2" stroke-width="0.6" />
<line x1="422.1" y1="316.6" x2="474.2" y2="316.6" stroke="#ebc3b6" stroke-width="0.6" />
<line x1="422.1" y1="318.5" x2="474.2" y2="318.5" stroke="#f1d2c2" stroke-width="0.6" />
<line x1="422.1" y1="320.4" x2="474.2" y2="320.4" stroke="#ebc3b6" stroke-width="0.6" />
<rect x="422.1" y="305" width="52" height="16" fill="#f2cdbd" opacity="0.1"/>
<line x1="379.6" y1="317.2" x2="422.1" y2="317.2" stroke="#bd9aa3" stroke-width="0.5" opacity="0.55"/>
<line x1="379.6" y1="319.6" x2="422.1" y2="319.6" stroke="#bd9aa3" stroke-width="0.5" opacity="0.55"/>
<line x1="379.6" y1="321.8" x2="422.1" y2="321.8" stroke="#bd9aa3" stroke-width="0.5" opacity="0.55"/>
<path d="M383.2,311.6 L383.2,301.6 L392.8,301.6" fill="none" stroke="#222" stroke-width="0.6"/>
<path d="M393.6,301.6 l-3.4,-1.5 l0,3 Z M383.2,312.6 l-1.5,-3.4 l3,0 Z" fill="#222"/>
<text x="394.2" y="305.8" font-size="5.5" font-weight="bold" text-anchor="middle" fill="#333" >z</text>
<text x="386.4" y="314.2" font-size="5.5" font-weight="bold" text-anchor="middle" fill="#333" >x</text>
<line x1="423.4" y1="325.3" x2="473.8" y2="325.3" stroke="#111" stroke-width="0.65" marker-start="url(#ah)" marker-end="url(#ah)"/>
<text x="449.9" y="333" font-size="7.0" font-weight="bold" text-anchor="middle" fill="#222" >630 μm</text>
<polyline points="519.6,347.1 519.83,347.09 520.07,347.09 520.3,347.08 520.53,347.08 520.77,347.07 521,347.06 521.23,347.06 521.47,347.05 521.7,347.04 521.93,347.03 522.17,347.02 522.4,347.01 522.63,347 522.87,346.99 523.1,346.98 523.34,346.97 523.57,346.96 523.8,346.94 524.04,346.93 524.27,346.92 524.5,346.9 524.74,346.89 524.97,346.87 525.2,346.86 525.44,346.84 525.67,346.83 525.9,346.81 526.14,346.79 526.37,346.78 526.6,346.76 526.84,346.74 527.07,346.73 527.3,346.71 527.54,346.69 527.77,346.67 528,346.65 528.24,346.64 528.47,346.62 528.7,346.6 528.94,346.58 529.17,346.56 529.4,346.54 529.64,346.52 529.87,346.5 530.11,346.49 530.34,346.46 530.57,346.44 530.81,346.42 531.04,346.4 531.27,346.37 531.51,346.34 531.74,346.31 531.97,346.28 532.21,346.25 532.44,346.22 532.67,346.19 532.91,346.16 533.14,346.13 533.37,346.09 533.61,346.06 533.84,346.03 534.07,345.99 534.31,345.96 534.54,345.92 534.77,345.89 535.01,345.86 535.24,345.82 535.47,345.79 535.71,345.75 535.94,345.72 536.17,345.69 536.41,345.66 536.64,345.63 536.87,345.6 537.11,345.57 537.34,345.54 537.58,345.51 537.81,345.49 538.04,345.46 538.28,345.44 538.51,345.42 538.74,345.39 538.98,345.37 539.21,345.35 539.44,345.32 539.68,345.3 539.91,345.27 540.14,345.25 540.38,345.22 540.61,345.2 540.84,345.17 541.08,345.14 541.31,345.11 541.54,345.08 541.78,345.05 542.01,345.01 542.24,344.97 542.48,344.94 542.71,344.9 542.94,344.86 543.18,344.82 543.41,344.77 543.64,344.73 543.88,344.68 544.11,344.62 544.35,344.56 544.58,344.5 544.81,344.43 545.05,344.35 545.28,344.26 545.51,344.17 545.75,344.07 545.98,343.94 546.21,343.77 546.45,343.55 546.68,343.28 546.91,342.96 547.15,342.58 547.38,342.03 547.61,341.19 547.85,340.12 548.08,338.88 548.31,337.53 548.55,336.04 548.78,334.18 549.01,332.05 549.25,329.8 549.48,327.55 549.71,325.37 549.95,323.13 550.18,320.7 550.41,317.94 550.65,314.47 550.88,309.88 551.12,304.91 551.35,300.35 551.58,296.95 551.82,294.14 552.05,291.6 552.28,289.51 552.52,288.08 552.75,287.25 552.98,286.69 553.22,286.71 553.45,287.51 553.68,288.85 553.92,290.7 554.15,294.29 554.38,298.95 554.62,303.75 554.85,308.25 555.08,312.98 555.32,317.24 555.55,321.24 555.78,324.95 556.02,327.58 556.25,328.96 556.48,330.14 556.72,331.1 556.95,331.79 557.18,332.16 557.42,332.18 557.65,332.08 557.88,331.87 558.12,331.6 558.35,331.25 558.59,330.83 558.82,329.92 559.05,328.55 559.29,326.91 559.52,325.2 559.75,323.47 559.99,321.51 560.22,319.3 560.45,316.77 560.69,313.27 560.92,309.1 561.15,305.34 561.39,302.93 561.62,300.99 561.85,299.31 562.09,298.09 562.32,297.55 562.55,297.68 562.79,298.1 563.02,298.74 563.25,299.49 563.49,300.3 563.72,301.38 563.95,302.73 564.19,304.27 564.42,305.89 564.65,307.5 564.89,309.09 565.12,310.73 565.36,312.51 565.59,314.5 565.82,316.78 566.06,319.79 566.29,323.62 566.52,327.55 566.76,330.91 566.99,334 567.22,336.9 567.46,339.21 567.69,340.65 567.92,341.82 568.16,342.82 568.39,343.61 568.62,344.14 568.86,344.39 569.09,344.52 569.32,344.63 569.56,344.73 569.79,344.82 570.02,344.89 570.26,344.95 570.49,345.01 570.72,345.06 570.96,345.1 571.19,345.14 571.42,345.18 571.66,345.22 571.89,345.26 572.13,345.3 572.36,345.35 572.59,345.39 572.83,345.43 573.06,345.47 573.29,345.51 573.53,345.55 573.76,345.58 573.99,345.62 574.23,345.65 574.46,345.69 574.69,345.72 574.93,345.75 575.16,345.78 575.39,345.82 575.63,345.84 575.86,345.87 576.09,345.9 576.33,345.93 576.56,345.96 576.79,345.98 577.03,346.01 577.26,346.03 577.49,346.05 577.73,346.08 577.96,346.1 578.19,346.12 578.43,346.14 578.66,346.16 578.89,346.18 579.13,346.2 579.36,346.22 579.6,346.24 579.83,346.26 580.06,346.28 580.3,346.3 580.53,346.31 580.76,346.33 581,346.35 581.23,346.37 581.46,346.39 581.7,346.4 581.93,346.42 582.16,346.44 582.4,346.46 582.63,346.47 582.86,346.49 583.1,346.51 583.33,346.52 583.56,346.54 583.8,346.55 584.03,346.57 584.26,346.58 584.5,346.6 584.73,346.61 584.96,346.63 585.2,346.64 585.43,346.65 585.66,346.66 585.9,346.68 586.13,346.69 586.37,346.7 586.6,346.71 586.83,346.72 587.07,346.73 587.3,346.74 587.53,346.75 587.77,346.75 588,346.76 588.23,346.77 588.47,346.77 588.7,346.78 588.93,346.78 589.17,346.79 589.4,346.79" fill="none" stroke="#f5b48b" stroke-width="0.65" stroke-linejoin="round" stroke-dasharray="3 0.9"/>
<rect x="519.6" y="286.6" width="69.8" height="60.8" fill="none" stroke="#5a5a5a" stroke-width="0.6"/>
<line x1="537.05" y1="286.6" x2="537.05" y2="287.9" stroke="#5a5a5a" stroke-width="0.5" />
<line x1="537.05" y1="347.4" x2="537.05" y2="346.1" stroke="#5a5a5a" stroke-width="0.5" />
<line x1="554.5" y1="286.6" x2="554.5" y2="287.9" stroke="#5a5a5a" stroke-width="0.5" />
<line x1="554.5" y1="347.4" x2="554.5" y2="346.1" stroke="#5a5a5a" stroke-width="0.5" />
<line x1="571.95" y1="286.6" x2="571.95" y2="287.9" stroke="#5a5a5a" stroke-width="0.5" />
<line x1="571.95" y1="347.4" x2="571.95" y2="346.1" stroke="#5a5a5a" stroke-width="0.5" />
<line x1="519.6" y1="317" x2="520.9" y2="317" stroke="#5a5a5a" stroke-width="0.5" />
<line x1="589.4" y1="317" x2="588.1" y2="317" stroke="#5a5a5a" stroke-width="0.5" />
<text x="516" y="289.6" font-size="9" font-weight="normal" text-anchor="end" fill="#222" >1</text>
<text x="517.8" y="320" font-size="9" font-weight="normal" text-anchor="end" fill="#222" >0.5</text>
<text x="516.2" y="349.8" font-size="9" font-weight="normal" text-anchor="end" fill="#222" >0</text>
<text x="519" y="357" font-size="9" font-weight="normal" text-anchor="middle" fill="#222" >-20</text>
<text x="536.45" y="357" font-size="9" font-weight="normal" text-anchor="middle" fill="#222" >-10</text>
<text x="554.5" y="357" font-size="9" font-weight="normal" text-anchor="middle" fill="#222" >0</text>
<text x="571.95" y="357" font-size="9" font-weight="normal" text-anchor="middle" fill="#222" >10</text>
<text x="589.4" y="357" font-size="9" font-weight="normal" text-anchor="middle" fill="#222" >20</text>
<text x="556.6" y="367.4" font-size="8.4" font-weight="normal" text-anchor="middle" fill="#222" >Degree (°)</text>
<text transform="translate(502.8,318.4) rotate(-90)" font-size="8.2" text-anchor="middle" fill="#222">Intensity (a.u.)</text>
</svg></body></html>
